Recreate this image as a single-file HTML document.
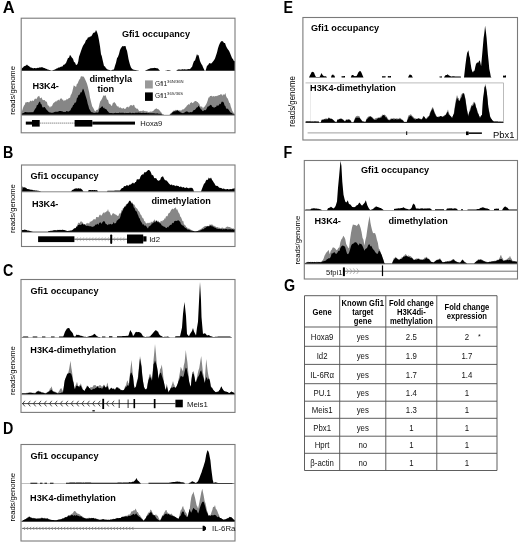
<!DOCTYPE html><html><head><meta charset="utf-8"><style>html,body{margin:0;padding:0;background:#fff;}svg{display:block;filter:blur(0.3px);}text{font-family:"Liberation Sans", Arial, sans-serif;}</style></head><body>
<svg width="520" height="544" viewBox="0 0 520 544">
<rect x="0" y="0" width="520" height="544" fill="#fff" />
<text transform="translate(2.7,12.5) scale(1.02,1)" font-size="16.2" font-weight="bold" text-anchor="start" fill="#000" >A</text>
<polygon fill="#000" points="21.5,70.8 21.5,69.13 22.25,68.09 23,67.54 24,66.32 25,66.12 26,65.47 27,64.58 28,65.87 29,66.04 30,67.14 31,67.55 31.75,67.69 32.5,68.03 33.25,68.41 34,68.08 34.75,68.02 35.5,68.17 36.25,68.29 37,67.92 37.75,67.67 38.5,68.01 39.25,67.16 40,67.72 40.75,67.29 41.5,67.22 42.25,67.24 43,67.44 43.75,68.11 44.5,67.97 45.25,68.51 46,68.82 46.75,69.03 47.5,69.44 48.25,69.62 49,70 49.75,70.12 50.5,70.25 51.25,70.38 52,70.5 52.75,70.25 53.5,70 54.25,69.75 55,69.52 55.75,69.02 56.5,68.6 57.25,68.42 58,67.81 58.8,67.45 59.6,67.4 60.4,67.02 61.2,66.6 62,66.84 62.75,66.1 63.5,64.84 64.25,64.64 65,63.9 66,62.89 67,60.6 68,57.88 69,57.66 70,54.76 71,56.17 72,57.67 73,58.83 74,62.05 75,62.57 76,65 76.75,64.73 77.5,63.98 78.25,61.43 79,56.69 80,54.03 81,51.06 82,48.28 83,45.75 84,44.35 85,42.83 86,40.04 87,39.46 88,37.13 89,37.54 90,36.42 91,36.43 92,35.31 93,33.13 94,32.6 95,32.47 96,30.05 97,32.02 98,35.37 99,40.26 100,46.13 101,54.19 101.75,56.03 102.5,59.54 103.25,62.76 104,66.11 105,66.58 106,68.28 107,69 108,69.75 108.75,69.75 109.5,70 110.25,70.25 111,70.5 111.75,70.12 112.5,69.75 113.25,69.63 114,69.34 115,65.82 116,62.8 117,58.29 118,56.7 119,54.11 120,50.08 121,47.89 121.75,47.01 122.5,46.01 123.25,46.32 124,46.3 124.75,46.08 125.5,46.01 126.25,48.92 127,50.81 127.75,54.75 128.5,59.1 129.25,62.02 130,64.77 131,67.52 132,68.63 133,69.52 134,69.75 135,70 135.71,70.11 136.43,70.23 137.14,70.34 137.86,70.46 138.57,70.57 139.29,70.69 140,70.8 140.71,70.8 141.43,70.8 142.14,70.8 142.86,70.8 143.57,70.8 144.29,70.8 145,70.8 145.75,70.35 146.5,69.9 147.25,69.72 148,69.31 149,68.94 150,68.49 150.71,68.22 151.43,68.19 152.14,67.98 152.86,68.29 153.57,67.9 154.29,67.87 155,67.94 155.75,68.08 156.5,68.35 157.25,68.35 158,68.5 159,69.65 160,70.8 160.71,70.8 161.43,70.8 162.14,70.8 162.86,70.8 163.57,70.8 164.29,70.8 165,70.8 165.75,70.6 166.5,70.4 167.25,70.2 168,70 168.8,70.16 169.6,70.32 170.4,70.48 171.2,70.64 172,70.8 172.8,70.8 173.6,70.8 174.4,70.8 175.2,70.8 176,70.8 177,70.15 178,69.54 178.7,69.5 179.4,69.55 180.1,69.42 180.8,69.65 181.5,69.55 182.2,69.37 182.9,69.37 183.6,69.38 184.3,69.36 185,69.24 185.71,69.48 186.43,69.5 187.14,69.29 187.86,69.27 188.57,69.09 189.29,69.07 190,69.14 191,67.69 192,66.88 193,63.76 194,61.05 195,60.59 196,57.16 197,54.07 197.75,55.57 198.5,55.06 199.25,58.04 200,60.9 200.75,62.76 201.5,64.19 202.25,65.33 203,67.31 203.75,68.83 204.5,70.5 205.5,70.8 206.25,68.39 207,65.68 208,65.17 209,63.57 209.75,62.91 210.5,63.57 211.25,63.52 212,62.84 213,61.52 214,60.3 215,58.38 216,55.5 217,52.39 218,48.28 219,45.31 220,43.06 221,41.61 222,41.07 223,41.52 224,43.1 225,42.98 226,46.06 227,47.92 228,49.6 229,50.8 230,52.99 231,55.5 232,57.93 233,59.2 234,61.37 235,61 235,70.8"/>
<polygon fill="#868686" points="21.5,114.8 21.5,112.55 22.3,110.24 23.15,107.46 24,105.44 24.75,104.76 25.5,102.19 26.25,102.45 27,102 28,102.12 29,102.45 29.8,101.53 30.6,100.55 31.4,101.58 32.2,100.25 33,100.96 33.8,100.84 34.6,99.07 35.4,98.58 36.16,99.32 36.92,98.37 37.68,96.69 38.44,96.14 39.2,95.73 39.97,97.89 40.73,98.17 41.5,97.22 42.27,99.29 43.05,100.21 43.83,100.07 44.6,99.97 45.38,101.36 46.15,101.39 46.93,102.08 47.7,105.14 48.47,105.43 49.23,106.14 50,107.81 50.77,106.18 51.53,106.45 52.3,105.62 53.07,103.51 53.85,102.85 54.62,102.19 55.4,101.33 56.17,101.69 56.95,100.57 57.73,100.52 58.5,99.49 59.25,100.65 60,98.88 60.75,98.56 61.5,98.28 62.27,99.72 63.03,99.39 63.8,101.22 64.53,100.3 65.27,100.37 66,100.35 66.8,98.87 67.6,99.42 68.4,98.48 69.2,97.71 69.97,97.89 70.73,94.95 71.5,94.04 72.27,91.8 73.03,88.62 73.8,85.32 74.53,86.01 75.27,86.36 76,87.13 76.83,84.1 77.67,83.57 78.5,81.35 79.27,79.61 80.03,78.9 80.8,76.52 81.53,76.37 82.27,76.54 83,76.61 83.8,76.78 84.6,78.35 85.4,79.88 86.2,81.66 87,83.82 87.73,86.36 88.47,89.61 89.2,92.55 90,97.42 90.8,100.74 91.53,103.73 92.27,106.47 93,107.45 93.8,109.07 94.6,110.63 95.4,111.54 96.18,110.36 96.95,109.79 97.72,109.63 98.5,108.6 99.6,103.53 100.3,101.16 101,100.47 101.85,98.92 102.7,97.37 103.47,95.21 104.23,95.91 105,95.25 105.77,95.41 106.53,98.34 107.3,99.83 108.07,99.95 108.83,103.33 109.6,103.88 110.4,104.34 111.2,105.71 112,105.63 112.73,103.16 113.47,102.75 114.2,101.93 114.97,102.81 115.73,103.76 116.5,105.3 117.28,106.73 118.05,105.84 118.82,107.42 119.6,107.76 120.38,107.21 121.15,107.89 121.92,108.52 122.7,108.5 123.47,107.63 124.25,108.96 125.03,108.5 125.8,108.67 126.55,106.98 127.3,107.08 128.05,106.47 128.8,107.67 129.6,106.08 130.4,105.13 131.2,105.1 132,105.51 132.73,105.67 133.47,104.8 134.2,104.93 134.97,107.49 135.73,107.69 136.5,108.79 137.28,108.6 138.05,109.32 138.82,110.75 139.6,111.17 140.38,110.67 141.15,111.31 141.92,110.84 142.7,110.85 143.47,110.28 144.25,111.23 145.03,110.66 145.8,111.56 146.55,111.36 147.3,111.42 148.05,111.75 148.8,112.17 149.58,111.64 150.36,111.48 151.14,111.72 151.92,111.45 152.7,111.29 153.46,110.65 154.22,109.86 154.98,109.35 155.74,108.84 156.5,108.18 157.27,109.3 158.03,109.09 158.8,109.82 159.6,110.41 160.4,111.54 161.2,112.31 161.95,113.52 162.7,114.6 163.46,114.62 164.21,114.64 164.97,114.67 165.72,114.69 166.48,114.71 167.23,114.73 167.99,114.76 168.74,114.78 169.5,114.8 170.8,113.01 171.55,112.66 172.3,111.9 173.05,110.92 173.8,110.5 174.6,110.83 175.4,109.72 176.2,110.37 177,109.73 177.75,109.99 178.5,110.55 179.25,110.23 180,110.54 180.75,110.41 181.5,110.45 182.25,109.32 183,109.65 183.8,108.99 184.6,108.39 185.4,107.49 186.2,106.86 186.97,105.51 187.73,104.89 188.5,103.96 189.27,104.93 190.03,103.36 190.8,102.66 191.53,101.99 192.27,103.15 193,102.72 193.8,102.15 194.6,101.17 195.4,100.96 196.2,100.94 196.97,101.98 197.73,101.98 198.5,103.28 199.27,103.65 200.03,105.95 200.8,106.74 201.53,106.53 202.27,106.66 203,108.66 203.8,107.03 204.6,106.63 205.4,105.4 206.2,104.29 207,102.54 207.75,100.36 208.5,97.44 209.27,97.58 210.03,95.94 210.8,95.98 211.55,95.8 212.3,96.68 213.05,96.09 213.8,96.25 214.6,96.47 215.4,95.91 216.2,96.29 217,95.76 217.75,95.85 218.5,95.25 219.25,94.98 220,94.93 220.77,94.12 221.53,94.25 222.3,95.97 223.08,93.93 223.85,94.99 224.62,94.62 225.4,93.1 226.17,96.17 226.93,97.63 227.7,98.38 228.47,100.61 229.23,102.79 230,103.31 230.77,106.42 231.53,108.46 232.3,110.88 233.05,112.08 233.8,113.33 235,114 235,114.8"/>
<polygon fill="#000" points="21.5,114.8 21.5,113.67 22.2,113.51 22.9,113.19 23.6,112.94 24.3,112.43 25,112.02 25.71,112.05 26.43,112.17 27.14,111.98 27.86,112.42 28.57,112.22 29.29,112.24 30,112.21 30.75,112.29 31.5,112.21 32.25,111.95 33,112.49 33.8,111.29 34.6,109.82 35.4,108.51 36.2,107.39 37,104.75 37.75,105.27 38.5,103.25 39.25,101.91 40,101.38 40.77,103.94 41.53,104.32 42.3,106.93 43.07,107.63 43.83,106.9 44.6,106.92 45.4,108 46.2,109.19 47,110.14 47.73,110.85 48.47,111.77 49.2,112.34 50.13,112.45 51.07,112.57 52,112.88 52.8,112.47 53.6,112.44 54.4,111.91 55.2,111.74 56,111.7 56.8,111.82 57.6,111.66 58.4,111.48 59.2,110.96 60,110.99 60.8,111.12 61.6,111.3 62.4,111.2 63.2,111.99 64,111.64 64.8,112.1 65.6,111.96 66.4,111.09 67.2,111.33 68,111.52 68.83,111.44 69.67,110.71 70.5,110.28 71.4,108.03 72.3,107.36 73.08,104.89 73.85,104.73 74.62,102.79 75.4,102.65 76.18,101.67 76.95,97.94 77.72,97.53 78.5,94.92 79.27,94.98 80.03,93.81 80.8,92.01 81.53,92.47 82.27,90.57 83,88.55 83.8,90.01 84.6,92.58 85.4,95.24 86.2,97.66 86.95,100.31 87.7,103.76 88.47,105.99 89.23,108.99 90,110 90.77,111.43 91.53,112.14 92.3,112.37 93.2,112.86 94.1,112.8 95,112.96 95.7,112.55 96.4,112.5 97.1,112.42 97.8,112.69 98.5,112.36 99.6,108.26 100.4,107.92 101.2,107.19 102,106.29 102.73,106.62 103.47,108.16 104.2,107.4 104.97,109.13 105.73,108.78 106.5,109.53 107.27,110.75 108.03,111.41 108.8,112.51 109.6,112.92 110.4,112.99 111.2,113.05 112,113.08 112.73,113.19 113.45,113.19 114.18,112.99 114.91,113.06 115.64,112.73 116.36,113.03 117.09,112.88 117.82,113.01 118.55,112.94 119.27,112.76 120,112.62 120.71,113.06 121.43,112.69 122.14,112.87 122.86,112.82 123.57,112.81 124.29,113.03 125,113.15 125.71,112.83 126.43,113.03 127.14,112.88 127.86,113.01 128.57,112.95 129.29,112.86 130,112.87 130.71,112.87 131.43,113.16 132.14,112.96 132.86,112.82 133.57,113.11 134.29,113.14 135,112.86 135.71,112.7 136.43,112.7 137.14,112.63 137.86,112.73 138.57,112.59 139.29,112.64 140,112.63 140.71,112.82 141.43,113.01 142.14,112.97 142.86,112.84 143.57,112.87 144.29,112.95 145,112.92 145.71,112.94 146.43,112.85 147.14,112.98 147.86,113.3 148.57,112.98 149.29,113.17 150,113.25 150.71,113.37 151.43,113.15 152.14,113.21 152.86,113.23 153.57,113.32 154.29,113.37 155,113.58 155.71,113.57 156.43,113.61 157.14,113.36 157.86,113.4 158.57,113.64 159.29,113.73 160,113.64 160.9,113.87 161.8,114.23 162.7,114.6 163.46,114.62 164.21,114.64 164.97,114.67 165.72,114.69 166.48,114.71 167.23,114.73 167.99,114.76 168.74,114.78 169.5,114.8 170.8,114 171.55,113.41 172.3,112.4 173.05,111.88 173.8,111.62 174.6,111.36 175.4,111.23 176.2,111.18 177,110.26 177.75,110.48 178.5,110.89 179.25,111.55 180,112 180.75,112.48 181.5,112.65 182.25,112.93 183,113.3 183.8,112.79 184.6,112.45 185.4,111.71 186.2,111.85 187,111 187.73,112.01 188.47,112.23 189.2,112.47 189.97,112.18 190.75,112.06 191.53,112.13 192.3,112.01 193.08,110.85 193.85,110.07 194.62,109.89 195.4,109.31 196.18,108.33 196.95,107.34 197.72,107.32 198.5,105.42 199.27,106.74 200.03,107.73 200.8,109.2 201.53,109.59 202.27,110.75 203,111.22 203.8,110.46 204.6,109.93 205.4,110.28 206.2,109.48 206.95,108.02 207.7,106.59 208.45,106.59 209.2,106.08 209.97,105.26 210.73,104.63 211.5,105.27 212.27,107.07 213.03,106.82 213.8,107.75 214.6,107.51 215.4,106.95 216.2,106.79 217,105.04 217.75,105.95 218.5,105.43 219.25,104.51 220,103.45 220.77,104.13 221.53,101.69 222.3,101.8 223.05,101.66 223.8,102.79 224.6,105.54 225.4,106.04 226.2,108.63 226.97,108.5 227.73,108.73 228.5,109.48 229.27,110.65 230.03,111.78 230.8,112.82 231.53,112.86 232.27,113.43 233,113.8 234,114.15 235,114.5 235,114.8"/>
<line x1="21.5" y1="115.3" x2="235" y2="115.3" stroke="#777" stroke-width="0.8"/>
<rect x="21.2" y="18.2" width="213.8" height="114.6" fill="none" stroke="#7a7a7a" stroke-width="1.1"/>
<text transform="translate(121.9,36.8) scale(1.04,1)" font-size="8.8" font-weight="bold" text-anchor="start" fill="#000" >Gfi1 occupancy</text>
<text transform="translate(32.4,89) scale(1.04,1)" font-size="8.8" font-weight="bold" text-anchor="start" fill="#000" >H3K4-</text>
<text transform="translate(89.4,81.6) scale(1.04,1)" font-size="8.8" font-weight="bold" text-anchor="start" fill="#000" >dimethyla</text>
<text transform="translate(97.4,92.2) scale(1.04,1)" font-size="8.8" font-weight="bold" text-anchor="start" fill="#000" >tion</text>
<rect x="145" y="80.4" width="7.8" height="8.1" fill="#999" />
<rect x="145" y="92.4" width="7.8" height="8.5" fill="#000" />
<text x="155" y="86" font-size="6.6" fill="#222">Gfi1<tspan font-size="4.2" dy="-2.6">36N/36N</tspan></text>
<text x="155" y="98" font-size="6.6" fill="#222">Gfi1<tspan font-size="4.2" dy="-2.6">36S/36S</tspan></text>
<text x="0" y="0" font-size="7.9" text-anchor="middle" fill="#000" transform="translate(15.2,90.4) rotate(-90) scale(0.965,1)">reads/genome</text>
<rect x="25.8" y="121.6" width="6.5" height="3" fill="#000" />
<rect x="32" y="120" width="7.7" height="6.6" fill="#000" />
<line x1="39.7" y1="123.1" x2="74.6" y2="123.1" stroke="#444" stroke-width="0.9" stroke-dasharray="1,1"/>
<rect x="74.6" y="120" width="17.7" height="6.6" fill="#000" />
<rect x="92.3" y="121.6" width="42.7" height="3" fill="#000" />
<text x="140.3" y="125.8" font-size="7.6" font-weight="normal" text-anchor="start" fill="#111" >Hoxa9</text>
<text transform="translate(2.97,157.8) scale(0.9,1)" font-size="15.9" font-weight="bold" text-anchor="start" fill="#000" >B</text>
<polygon fill="#000" points="22,191.6 22,191.5 22.5,186.26 23.33,187.59 24.17,187.14 25,187.55 25.75,187.8 26.5,188.31 27.25,188.91 28,189.1 29,189.21 30,189.57 30.75,189.73 31.5,189.65 32.25,189.83 33,190.33 33.75,190.37 34.5,190.26 35.25,190.55 36,190.5 36.8,190.6 37.6,190.7 38.4,190.8 39.2,190.9 40,191 41,191.5 41.71,191.5 42.43,191.5 43.14,191.5 43.86,191.5 44.57,191.5 45.29,191.5 46,191.5 46.71,191.5 47.43,191.5 48.14,191.5 48.86,191.5 49.57,191.5 50.29,191.5 51,191.5 51.71,191.5 52.43,191.5 53.14,191.5 53.86,191.5 54.57,191.5 55.29,191.5 56,191.5 56.71,191.5 57.43,191.5 58.14,191.5 58.86,191.5 59.57,191.5 60.29,191.5 61,191.5 61.71,191.5 62.43,191.5 63.14,191.5 63.86,191.5 64.57,191.5 65.29,191.5 66,191.5 66.71,191.5 67.43,191.5 68.14,191.5 68.86,191.5 69.57,191.5 70.29,191.5 71,191.5 72,190.13 72.75,189.79 73.5,189.42 74.25,188.98 75,188.5 76,188.46 77,188.28 77.75,188.76 78.5,188.1 79.25,188.76 80,188.16 81,188.74 82,189.47 82.75,190.49 83.5,191.5 84.25,191.5 85,191.5 85.75,191.5 86.5,191.5 87.25,191.5 88,191.5 88.5,190.15 89.2,189.98 89.9,190.09 90.6,190.02 91.3,190.2 92,189.88 92.71,189.97 93.43,190.2 94.14,189.9 94.86,190.07 95.57,190.24 96.29,190.25 97,190.01 98,191.5 98.75,191.5 99.5,191.5 100.25,191.5 101,191.5 101.75,191.5 102.5,191.5 103.25,191.5 104,191.5 104.75,191.5 105.5,191.5 106.25,191.5 107,191.5 107.5,190.8 108.24,190.78 108.97,190.76 109.71,190.75 110.44,190.73 111.18,190.71 111.91,190.69 112.65,190.68 113.38,190.66 114.12,190.64 114.85,190.62 115.59,190.61 116.32,190.59 117.06,190.57 117.79,190.55 118.53,190.54 119.26,190.52 120,190.5 121,189.02 122,188.05 123,187.93 124,186.32 125,186.09 125.75,186.2 126.5,185.26 127.25,185.04 128,186 129,185.14 130,184.2 130.75,184.72 131.5,183.72 132.25,183.35 133,182.51 133.75,183.49 134.5,183.27 135.25,182.02 136,182.08 136.75,179.43 137.5,179.26 138.25,179.17 139,179.6 139.75,178.66 140.5,176.48 141.25,175.24 142,174.7 142.75,174.15 143.5,174.42 144.25,172.09 145,172.77 145.75,172.06 146.5,171.69 147.25,171.01 148,170.09 149,170.1 150,170.7 151,172.67 152,175.47 152.75,174.86 153.5,176.06 154.25,178.22 155,178.04 155.75,178.14 156.5,178.57 157.25,180.22 158,180.22 158.75,181.03 159.5,180.19 160.25,179.8 161,177.58 162,176.68 163,176.21 164,178.47 165,180.31 165.75,180.3 166.5,180.39 167.25,181.35 168,182.36 168.75,183.16 169.5,183.89 170.25,184.65 171,184.9 171.8,184.2 172.6,185.61 173.4,184.96 174.2,185.6 175,185.54 175.71,186.19 176.43,185.56 177.14,185.76 177.86,185.9 178.57,185.91 179.29,186.97 180,186.71 180.71,186.53 181.43,186.75 182.14,187.56 182.86,187.13 183.57,186.96 184.29,187.7 185,187.66 185.71,188.06 186.43,187.24 187.14,187.67 187.86,188.06 188.57,188.14 189.29,188.27 190,187.54 190.75,187.88 191.5,187.85 192.25,188.03 193,188.77 194,191.5 194.7,191.5 195.4,191.5 196.1,191.5 196.8,191.5 197.5,191.5 198.2,191.5 198.9,191.5 199.6,191.5 200.3,191.5 201,191.5 202,188.68 203,186.35 204,183.7 205,182.91 205.75,181.11 206.5,179.82 207.25,180.09 208,179.58 208.75,177.61 209.5,178.56 210.25,178.49 211,177.48 212,179.81 213,181.31 213.75,182.43 214.5,183.48 215.25,185 216,185.95 216.8,185.77 217.6,186.01 218.4,186.87 219.2,187.69 220,187.67 220.71,187.98 221.43,188.09 222.14,188.75 222.86,188.75 223.57,188.61 224.29,188.85 225,189.23 225.71,189.31 226.43,189.37 227.14,189.05 227.86,189.09 228.57,189.4 229.29,189.23 230,189.16 230.71,189.04 231.43,189.32 232.14,188.78 232.86,188.82 233.57,188.55 234.29,188.46 235,188 235,191.6"/>
<line x1="21.5" y1="191.8" x2="235" y2="191.8" stroke="#555" stroke-width="0.7"/>
<polygon fill="#868686" points="22,232 22,232 22.71,232 23.41,232 24.12,232 24.83,232 25.53,232 26.24,232 26.95,232 27.65,232 28.36,232 29.07,232 29.77,232 30.48,232 31.19,232 31.89,232 32.6,232 33.31,232 34.01,232 34.72,232 35.43,232 36.13,232 36.84,232 37.55,232 38.25,232 38.96,232 39.67,232 40.37,232 41.08,232 41.79,232 42.49,232 43.2,232 43.91,232 44.61,232 45.32,232 46.03,232 46.73,232 47.44,232 48.15,232 48.85,232 49.56,232 50.27,232 50.97,232 51.68,232 52.39,232 53.09,232 53.8,232 54.51,232 55.21,232 55.92,232 56.63,232 57.33,232 58.04,232 58.75,232 59.45,232 60.16,232 60.87,232 61.57,232 62.28,232 62.99,232 63.69,232 64.4,232 65.11,232 65.81,232 66.52,232 67.23,232 67.93,232 68.64,232 69.35,232 70.05,232 70.76,232 71.47,232 72.17,232 72.88,232 73.59,232 74.29,232 75,232 76,227.14 77,225.95 78,223.26 78.8,222.53 79.6,223.3 80.4,221.75 81.2,220.91 82,222.48 82.75,222.31 83.5,224.01 84.25,223.92 85,225.55 85.71,224.43 86.43,223.46 87.14,222.74 87.86,223.46 88.57,223.27 89.29,223.43 90,221.2 90.8,221.92 91.6,220.92 92.4,220.76 93.2,219.52 94,219.37 94.75,219.21 95.5,219.41 96.25,216.93 97,217.08 97.8,217.32 98.6,217.23 99.4,215.08 100.2,214.48 101,215.82 101.8,215.35 102.6,213.71 103.4,212.22 104.2,213.59 105,211.85 105.75,212.43 106.5,211.24 107.25,211.13 108,209.1 108.75,211.73 109.5,211.74 110.25,213.39 111,215.61 111.75,215.26 112.5,213.53 113.25,213.29 114,213.38 114.75,214.26 115.5,214.59 116.25,214.65 117,215.54 117.75,215.97 118.5,215.72 119.25,213.22 120,213.74 120.75,212.92 121.5,210.08 122.25,210.59 123,207.76 123.75,207.88 124.5,206.84 125.25,206.07 126,204.42 127,203.8 128,203.28 129,202.44 130,202.45 130.75,202.36 131.5,202.71 132.25,202.18 133,203.86 133.75,204.45 134.5,204.77 135.25,206.8 136,207.72 136.75,208.26 137.5,208.9 138.25,210.79 139,211.24 139.75,212.53 140.5,214.45 141.25,214.95 142,216.97 142.75,218.37 143.5,218.59 144.25,221.15 145,221.18 145.75,222.99 146.5,223.46 147.25,223.24 148,222.61 148.75,223.22 149.5,222.58 150.25,223.47 151,221.3 151.75,222.32 152.5,222.07 153.25,220.92 154,220.54 154.75,219.36 155.5,221.28 156.25,220.39 157,221.6 157.75,221.89 158.5,220.61 159.25,222.36 160,223.05 160.75,220.77 161.5,221.02 162.25,221.54 163,219.85 163.75,220.6 164.5,218.35 165.25,218.67 166,216.32 166.75,216.23 167.5,216.27 168.25,213.83 169,213.08 169.75,212.68 170.5,211.33 171.25,209.77 172,209.15 172.75,208.42 173.5,209.44 174.25,208.18 175,207.97 175.75,207.37 176.5,209.73 177.25,209.25 178,211.17 178.75,212.9 179.5,213.79 180.25,216.42 181,217.22 181.75,218.9 182.5,221.19 183.25,221.11 184,224.58 184.75,224.79 185.5,225.38 186.25,226.95 187,227.29 187.75,228.43 188.5,228.4 189.25,228.6 190,229.3 190.75,229.57 191.5,229.96 192.25,230.69 193,231 193.75,231.25 194.5,231.5 195.25,231.75 196,232 196.75,231.5 197.5,231 198.25,230.52 199,230.36 199.75,229.52 200.5,229.21 201.25,228.96 202,228.08 202.75,227.84 203.5,227.11 204.25,226.38 205,226.04 205.75,225.96 206.5,226.38 207.25,225.89 208,225.79 208.75,226.13 209.5,224.6 210.25,224.46 211,224.94 211.8,224.24 212.6,224.65 213.4,225.64 214.2,225.7 215,226.47 215.71,226.5 216.43,227.14 217.14,227.34 217.86,227.09 218.57,227.75 219.29,227.78 220,227.63 220.71,228.43 221.43,227.74 222.14,227.65 222.86,227.59 223.57,228.13 224.29,228.36 225,228.27 225.75,227.56 226.5,227.06 227.25,226.39 228,226.85 228.8,227.01 229.6,227.02 230.4,227.62 231.2,227.67 232,228.43 232.75,228.49 233.5,228.34 234.25,229.15 235,228.75 235,232"/>
<polygon fill="#000" points="22,232 22,230.02 22.75,230.12 23.5,229.95 24.25,229.75 25,229.53 25.71,230.11 26.43,229.93 27.14,230.37 27.86,230.7 28.57,230.62 29.29,230.84 30,231 30.75,231.25 31.5,231.5 32.25,231.75 33,232 33.71,232 34.43,232 35.14,232 35.86,232 36.57,232 37.29,232 38,232 38.71,232 39.43,232 40.14,232 40.86,232 41.57,232 42.29,232 43,232 43.71,232 44.43,232 45.14,232 45.86,232 46.57,232 47.29,232 48,232 48.5,231 49.22,230.89 49.94,230.94 50.67,230.82 51.39,230.76 52.11,230.72 52.83,230.4 53.56,230.34 54.28,230.24 55,230.02 55.71,230.33 56.43,230.23 57.14,230.13 57.86,229.72 58.57,230.08 59.29,229.97 60,229.76 60.71,229.97 61.43,229.88 62.14,229.83 62.86,229.84 63.57,229.97 64.29,229.95 65,230.15 65.75,230.54 66.5,230.73 67.25,230.98 68,231 68.8,230.8 69.6,230.82 70.4,230.49 71.2,230.42 72,230.19 72.75,229.83 73.5,229.12 74.25,228.35 75,228.14 75.75,227.96 76.5,226.52 77.25,226.86 78,225.02 78.8,224.93 79.6,224.42 80.4,224.89 81.2,224.87 82,224.06 82.8,223.55 83.6,224.98 84.4,224.3 85.2,224.52 86,226 86.8,225.63 87.6,225.81 88.4,225.85 89.2,226.43 90,225.72 90.75,226.5 91.5,226.5 92.25,226.93 93,226.58 93.75,226.54 94.5,225.88 95.25,225.01 96,224.37 96.8,224.84 97.6,223.55 98.4,224.88 99.2,223.09 100,222.56 100.8,222.43 101.6,223.94 102.4,222.36 103.2,221.61 104,221.06 104.8,221.69 105.6,223.69 106.4,224.08 107.2,224.72 108,225.3 108.8,223.82 109.6,224.52 110.4,223.81 111.2,224.45 112,224.21 112.8,224.12 113.6,222.05 114.4,223.51 115.2,223.31 116,223.08 116.75,220.67 117.5,220.33 118.25,219.56 119,218.83 119.75,218.43 120.5,216.16 121.25,213.58 122,211.82 122.75,210.39 123.5,208.63 124.25,207.22 125,206.22 125.75,206.79 126.5,204.7 127.25,204.08 128,203.43 129,201.3 130,200.56 130.75,201.56 131.5,203.45 132.25,203.62 133,204.46 133.75,207.43 134.5,207.98 135.25,210.31 136,211.36 136.75,211.57 137.5,213.91 138.25,215.46 139,217.7 139.75,218.39 140.5,220.8 141.25,222.06 142,222.95 142.75,224.81 143.5,223.91 144.25,225.75 145,225.26 145.75,225.63 146.5,226.51 147.25,227.73 148,228.47 148.75,226.57 149.5,226.31 150.25,225.48 151,225.2 151.75,223.43 152.5,223.42 153.25,222.45 154,222.83 154.75,221.32 155.5,222.58 156.25,220.87 157,220.47 157.75,222.16 158.5,222.35 159.25,222.12 160,223.83 160.75,223.28 161.5,225.18 162.25,225.54 163,226.21 163.75,226.51 164.5,226.7 165.25,227.33 166,227.89 166.75,228.08 167.5,226.85 168.25,227.47 169,226.03 169.75,225.44 170.5,224.7 171.25,225.09 172,223.55 172.75,222.71 173.5,223.19 174.25,221.14 175,221.01 175.75,220.86 176.5,221.03 177.25,220.72 178,220.17 178.75,220.45 179.5,221.34 180.25,221.9 181,224.26 181.75,224.63 182.5,225.52 183.25,225.38 184,226.58 184.75,227.59 185.5,227.96 186.25,228.17 187,229.08 187.75,229.63 188.5,229.51 189.25,229.78 190,230.13 190.71,230.49 191.43,230.72 192.14,230.69 192.86,230.86 193.57,231.07 194.29,231.29 195,231.5 195.71,231.36 196.43,231.21 197.14,231.07 197.86,230.93 198.57,230.83 199.29,230.72 200,230.61 200.71,230.29 201.43,229.73 202.14,229.42 202.86,228.92 203.57,229.14 204.29,228.58 205,227.6 205.75,227.96 206.5,226.38 207.25,226.16 208,226.52 208.75,226.22 209.5,226.13 210.25,225.67 211,225.3 211.8,226.41 212.6,226.14 213.4,226.75 214.2,227.43 215,227.53 215.71,228.06 216.43,228.58 217.14,228.64 217.86,228.63 218.57,228.89 219.29,228.92 220,228.85 220.71,229.18 221.43,229.04 222.14,229.28 222.86,229.4 223.57,229.06 224.29,229.16 225,229.29 225.71,229.05 226.43,228.91 227.14,229.27 227.86,229.38 228.57,229.3 229.29,229.25 230,229.36 230.71,229.33 231.43,229.39 232.14,229.36 232.86,229.37 233.57,229.66 234.29,229.45 235,229.5 235,232"/>
<line x1="21.5" y1="232" x2="235" y2="232" stroke="#333" stroke-width="0.8"/>
<rect x="21.5" y="165" width="213.5" height="81.5" fill="none" stroke="#7a7a7a" stroke-width="1.1"/>
<text transform="translate(30.5,178.8) scale(1.04,1)" font-size="8.8" font-weight="bold" text-anchor="start" fill="#000" >Gfi1 occupancy</text>
<text transform="translate(31.9,206.8) scale(1.04,1)" font-size="8.8" font-weight="bold" text-anchor="start" fill="#000" >H3K4-</text>
<text transform="translate(151.4,204.2) scale(1.04,1)" font-size="8.8" font-weight="bold" text-anchor="start" fill="#000" >dimethylation</text>
<text x="0" y="0" font-size="7.9" text-anchor="middle" fill="#000" transform="translate(14.6,208.6) rotate(-90) scale(0.965,1)">reads/genome</text>
<line x1="74.4" y1="239.2" x2="127" y2="239.2" stroke="#222" stroke-width="0.8"/>
<path d="M77.7 237.2L76.5 239.2L77.7 241.2M80.8 237.2L79.6 239.2L80.8 241.2M83.9 237.2L82.7 239.2L83.9 241.2M87 237.2L85.8 239.2L87 241.2M90.1 237.2L88.9 239.2L90.1 241.2M93.2 237.2L92 239.2L93.2 241.2M96.3 237.2L95.1 239.2L96.3 241.2M99.4 237.2L98.2 239.2L99.4 241.2M102.5 237.2L101.3 239.2L102.5 241.2M105.6 237.2L104.4 239.2L105.6 241.2M108.7 237.2L107.5 239.2L108.7 241.2M111.8 237.2L110.6 239.2L111.8 241.2M114.9 237.2L113.7 239.2L114.9 241.2M118 237.2L116.8 239.2L118 241.2M121.1 237.2L119.9 239.2L121.1 241.2M124.2 237.2L123 239.2L124.2 241.2" fill="none" stroke="#999" stroke-width="0.5"/>
<rect x="38.1" y="236.3" width="36.3" height="5.8" fill="#000" />
<rect x="110.2" y="234.5" width="2" height="9.4" fill="#000" rx="0.8"/>
<rect x="127" y="234.5" width="16.2" height="9" fill="#000" />
<rect x="143.2" y="236.3" width="3.3" height="5.2" fill="#000" />
<text x="149.2" y="242.1" font-size="7.8" font-weight="normal" text-anchor="start" fill="#111" >Id2</text>
<text transform="translate(3,275.8) scale(0.9,1)" font-size="15.9" font-weight="bold" text-anchor="start" fill="#000" >C</text>
<polygon fill="#000" points="21.5,337.4 21.5,337.3 22.5,336.9 23.5,336.5 24.25,336.5 25,336.5 25.75,336.5 26.5,336.5 27.25,336.5 28,336.5 28.5,337.3 29.2,337.3 29.9,337.3 30.6,337.3 31.3,337.3 32,337.3 32.7,337.3 32.7,336.5 33.47,336.5 34.23,336.5 35,336.5 35.77,336.5 36.53,336.5 37.3,336.5 37.3,337.3 38.08,337.3 38.87,337.3 39.65,337.3 40.43,337.3 41.22,337.3 42,337.3 42,336.5 42.85,336.5 43.7,336.5 44.55,336.5 45.4,336.5 45.4,337.3 46.1,337.3 46.8,337.3 47.5,337.3 48.2,337.3 48.9,337.3 49.6,337.3 50.3,337.3 51,337.3 51,336.5 51.72,336.5 52.44,336.5 53.16,336.5 53.88,336.5 54.6,336.5 54.6,337.3 55.33,337.3 56.07,337.3 56.8,337.3 57.53,337.3 58.27,337.3 59,337.3 59,336.5 59.74,336.5 60.48,336.5 61.22,336.5 61.96,336.5 62.7,336.5 63.4,336.13 64.2,334.09 65,331.84 66.2,329.73 67,328.42 67.8,328.23 68.5,327.95 69.2,327.97 70.3,330.3 71.15,331.27 72,332.15 72.8,333.27 73.6,335.69 74.3,336.32 75,336.8 75.8,335.66 76.6,334.54 77.4,335.1 78.2,334.76 79,335.29 79.73,335.21 80.47,335.63 81.2,335.81 81.97,335.98 82.73,336.2 83.5,336.6 84.2,336.68 84.9,336.76 85.6,336.84 86.3,336.92 87,337 87.71,336.75 88.42,336.5 89.14,336.25 89.85,336.03 90.56,335.96 91.28,335.73 91.99,335.59 92.7,335.27 93.55,334.48 94.4,333.8 95.3,334.57 96.2,335.58 96.97,336.24 97.73,336.47 98.5,337 99.2,337.06 99.9,337.12 100.6,337.18 101.3,337.24 102,337.3 102,336.5 102.85,336.5 103.7,336.5 104.55,336.5 105.4,336.5 105.4,337.3 106.12,337.3 106.84,337.3 107.56,337.3 108.28,337.3 109,337.3 109,336.2 109.85,336.2 110.7,336.2 111.55,336.2 112.4,336.2 112.4,337.3 113.17,337.3 113.93,337.3 114.7,337.3 115.47,337.3 116.23,337.3 117,337.3 117,336.2 117.7,336.24 118.4,336.35 119.1,336.25 119.8,336.33 120.5,336.14 121.2,336.37 121.9,336.16 122.6,336.06 123.3,336.1 124,336.12 124.75,335.9 125.5,335.95 126.25,335.86 127,335.88 127.75,335.65 128.5,335.52 129.45,332.22 130.4,329.95 131.2,331.73 132,332.63 133,336.07 133.83,335.15 134.67,333.68 135.5,332.25 136.27,331.76 137.03,332.26 137.8,331.98 139,332.07 140,332.42 141,333.11 142,334.41 143,336.3 144,336.5 145,337 145.71,336.93 146.43,336.86 147.14,336.79 147.86,336.71 148.57,336.64 149.29,336.57 150,336.5 151,335.3 152,334.26 153,333.08 154,331.74 155,330.76 156,330.01 157,331.22 158,331.42 159,333.91 160,335.19 160.75,335.86 161.5,336.08 162.25,336.5 163,337 163.71,336.93 164.43,336.86 165.14,336.79 165.86,336.71 166.57,336.64 167.29,336.57 168,336.5 169,336.9 170,337.3 170.71,337.3 171.43,337.3 172.14,337.3 172.86,337.3 173.57,337.3 174.29,337.3 175,337.3 175,336.5 175.71,336.43 176.43,336.36 177.14,336.29 177.86,336.21 178.57,336.25 179.29,336.15 180,336.13 181,331.98 182,327.51 183,314.09 183.75,307.62 184.5,302.04 185.25,308.91 186,316.06 187,334.09 188,335.23 189,336.2 190,333.93 191,332.51 192,331.09 193,328.12 194,331.55 195,333.48 196,335.41 197,327.81 198,321.83 199,301.39 200,282.03 201,300.03 201.5,317.09 202.25,325.82 203,333.95 204,333.46 205,333.14 206,334.17 207,335.41 208,335.18 209,335.08 210,335.88 211,336.24 212,336.5 213,337 213.71,336.94 214.43,336.89 215.14,336.83 215.86,336.77 216.57,336.71 217.29,336.66 218,336.6 218.75,336.6 219.5,336.6 220.25,336.6 221,336.6 221.75,336.6 222.5,336.6 223.25,336.6 224,336.6 224.75,336.6 225.5,336.6 226.25,336.6 227,336.6 227.75,336.6 228.5,336.6 229.25,336.6 230,336.6 231,336.95 232,337.3 232,337.4"/>
<polygon fill="#868686" points="21.5,394 21.5,394 22,393 22.8,393 23.6,393 24.4,393 25.2,393 26,393 26.75,392.82 27.5,392.7 28.25,392.77 29,392.53 29.83,392.59 30.67,392.55 31.5,392.63 32.2,392.71 32.9,392.84 33.6,392.78 34.3,392.86 35,393 35.95,392.22 36.9,391.17 37.7,390.99 38.5,390.39 39.27,391.18 40.03,391.37 40.8,391.65 41.53,391.88 42.27,392.09 43,392.48 43.8,392.55 44.6,392.89 45.4,393 46.2,392.69 47,392.48 47.73,391.8 48.47,391.15 49.2,390.76 49.97,388.47 50.73,388.24 51.5,386.29 52.25,388.83 53,391.27 53.8,391.58 54.6,391.49 55.4,391.73 56.17,392.42 56.93,392.52 57.7,393 58.47,392.05 59.23,390.96 60,389.23 61.2,387.94 62.1,389.67 63,391.46 63.8,386.4 64.6,382.96 65.4,379.52 66.2,377.07 66.95,376.87 67.7,373.87 68.45,371.98 69.2,368.38 70.5,360.74 71.25,367.3 72,371.61 72.75,377.19 73.5,382.66 74.6,388.77 75.4,385.8 76.2,384.06 77,381.73 77.75,384.62 78.5,387.46 79.27,385.36 80.03,385.35 80.8,383.19 81.53,385.58 82.27,387.2 83,389.56 83.8,390.78 84.6,391.26 85.4,389.65 86.2,387.2 87,385.26 87.73,386.18 88.47,387.61 89.2,388.58 89.97,388.32 90.73,386.63 91.5,387.27 92.28,387.28 93.05,386.34 93.82,385.05 94.6,385.22 95.4,385.08 96.2,385.89 97,387.62 97.75,386.42 98.5,385.88 99.25,385.49 100,385 101,385.78 102,387.09 103,385.81 104,384.53 105,386.4 106,388.47 106.75,384.71 107.5,382.47 108.25,386.36 109,390.67 110,388.87 111,387.76 111.75,387.8 112.5,389.02 113.33,389.47 114.17,389.44 115,389.41 116,388.51 117,387.05 118,387.47 119,387.87 120,389.1 121,390.37 121.75,390.05 122.5,389.93 123.25,389.92 124,390.03 125,386.59 126,385.25 126.75,382.09 127.5,380.26 128.25,383.03 129,383.77 130,373.02 130.75,366.48 131.5,360.03 132.25,368.35 133,376.3 133.75,383.31 134.5,388.9 135.25,387.51 136,386.73 137,380.72 138,376.42 139,365.77 140,355.93 140.75,360.33 141.5,365.01 142.25,374.5 143,381.27 144,386.91 145,389.1 146,389.35 147,387.68 147.75,382.54 148.5,379.08 149.25,375.28 150,373.61 151,375.79 152,378.86 152.75,370.45 153.5,360.32 154.25,352.51 155,344.11 156,353.94 157,366.38 157.75,372.81 158.5,378.51 159.25,375.3 160,369.56 160.9,368.12 161.8,364.58 162.8,372.28 163.8,381.53 164.6,386.5 165.4,389.9 166.15,386.14 166.9,383.68 167.7,388.54 168.5,392.07 169.27,391.22 170.03,389.65 170.8,387.78 171.53,385.85 172.27,383.83 173,380.97 173.8,384.06 174.6,385.42 175.4,388.81 176.17,386.76 176.93,385.91 177.7,384.39 178.45,380.12 179.2,376.25 180,371.73 180.8,366.68 181.53,368.39 182.27,369.98 183,371.44 183.8,365.53 184.6,362.14 185.8,350.05 186.6,356.82 187.4,362.23 188.3,372.08 189.2,382.15 190,384.83 190.8,387.06 191.55,379.08 192.3,371.74 193.05,372.35 193.8,370.83 194.6,377.26 195.4,382.82 196.2,380.42 197,377.18 197.73,373.46 198.47,370.27 199.2,368.28 200.2,362.08 201.2,355.89 202.1,364.5 203,372.75 203.8,376.24 204.6,383.33 205.4,371.04 206.2,358.91 206.95,365.16 207.7,371.4 208.45,375.77 209.2,378.78 210,382.31 210.8,386.49 211.53,386.67 212.27,387.65 213,389.61 213.8,390.7 214.6,391.13 215.4,392.33 216.18,392.31 216.95,391.87 217.72,391.94 218.5,391.87 219.25,390.52 220,388.99 220.75,387.75 221.5,387.32 222.27,388.71 223.03,389.69 223.8,390.86 224.6,391.51 225.4,391.63 226.2,391.46 227,391.82 227.73,392.39 228.47,392.79 229.2,393 229.97,392.67 230.73,392.21 231.5,391.82 232.28,391.96 233.05,392.32 233.82,392.68 234.6,393 234.6,394"/>
<polygon fill="#000" points="21.5,394 21.5,394 22,393.5 22.8,393.5 23.6,393.5 24.4,393.5 25.2,393.5 26,393.5 26.75,393.32 27.5,393.15 28.25,392.98 29,392.8 29.83,392.8 30.67,392.8 31.5,392.8 32.2,392.94 32.9,393.08 33.6,393.22 34.3,393.36 35,393.5 35.95,392.73 36.9,391.7 37.7,391.59 38.5,391.27 39.27,391.64 40.03,391.74 40.8,392.02 41.53,392.65 42.27,392.65 43,392.8 43.8,393.03 44.6,393.27 45.4,393.5 46.2,393.15 47,392.8 47.73,392.24 48.47,391.93 49.2,391.52 49.97,390.46 50.73,390.24 51.5,389.38 52.25,390.68 53,391.51 53.8,391.68 54.6,392.31 55.4,392.38 56.17,392.66 56.93,393 57.7,393.5 58.47,393.33 59.23,393.17 60,393 60.75,392.91 61.5,392.59 62.25,392.55 63,392.19 63.8,387.27 64.6,380.69 65.4,378.55 66.2,376.62 66.95,374.56 67.7,373.58 68.45,373.44 69.2,372.9 70.5,373.18 71.25,374.11 72,376.23 72.75,380.17 73.5,382.51 74.6,389.01 75.4,388.13 76.2,385.75 77,385.84 77.75,386.06 78.5,386.21 79.27,387.32 80.03,385.57 80.8,385.77 81.53,387.18 82.27,388.89 83,389.74 83.8,390.25 84.6,391.12 85.4,388.92 86.2,388.22 87,386.65 87.73,386.04 88.47,386.73 89.2,388.05 89.97,388.59 90.73,389.65 91.5,390 92.28,389.66 93.05,388.41 93.82,389.06 94.6,388.68 95.4,388.11 96.2,388.18 97,386.1 97.75,386.5 98.5,387.75 99.25,388.25 100,388.04 101,387.93 102,388.78 103,387.75 104,385.21 105,386.8 106,387.87 106.75,386.46 107.5,385.95 108.25,387.74 109,390.21 110,388.92 111,388.47 111.75,387.77 112.5,388.95 113.33,388.58 114.17,388.71 115,390.02 116,387.63 117,387.33 118,387.97 119,388.77 120,388.91 121,390.39 121.75,389.84 122.5,390.42 123.25,390.13 124,389.69 125,388.15 126,386.6 126.75,386.63 127.5,385.05 128.25,385.81 129,385.28 130,375.49 130.75,373.12 131.5,372.57 132.25,374.72 133,376.32 133.75,383.67 134.5,387.88 135.25,387.41 136,386.27 137,382.1 138,378.85 139,368.24 140,358.37 140.75,363.08 141.5,366.7 142.25,375.49 143,381.25 144,386.94 145,389.06 146,389.38 147,388.46 147.75,383.71 148.5,380.05 149.25,378.13 150,376.57 151,378.44 152,380.8 152.75,373.18 153.5,364.2 154.25,363.04 155,360.21 156,363.14 157,366.97 157.75,371.38 158.5,379.1 159.25,374.9 160,373.15 160.9,372.44 161.8,375.58 162.8,378.4 163.8,381.81 164.6,385.25 165.4,389.92 166.15,388.25 166.9,386.33 167.7,389.48 168.5,392.4 169.27,390.73 170.03,389.75 170.8,387.89 171.53,387.41 172.27,387.83 173,387.25 173.8,386.89 174.6,387.25 175.4,387.82 176.17,387.19 176.93,385.59 177.7,383.6 178.45,381.2 179.2,379.85 180,377.71 180.8,375.59 181.53,376.15 182.27,376.38 183,377.14 183.8,375.51 184.6,371.7 185.8,367.59 186.6,368.52 187.4,372.58 188.3,376.14 189.2,381.85 190,384.9 190.8,386.87 191.55,379.18 192.3,374.3 193.05,373.35 193.8,374.22 194.6,377.49 195.4,381.91 196.2,381.83 197,379.31 197.73,377.29 198.47,376.18 199.2,375.11 200.2,371.41 201.2,370.14 202.1,373.18 203,376.53 203.8,378.72 204.6,383.07 205.4,380.25 206.2,377.3 206.95,377.66 207.7,380.06 208.45,378.59 209.2,378.65 210,380.93 210.8,386.4 211.53,387.73 212.27,388.24 213,389.56 213.8,390.47 214.6,391.35 215.4,392.01 216.18,392.33 216.95,391.86 217.72,391.72 218.5,391.56 219.25,390.34 220,389.69 220.75,387.42 221.5,386.17 222.27,388.58 223.03,389.41 223.8,390.81 224.6,391.37 225.4,391.51 226.2,391.63 227,391.89 227.73,392.05 228.47,392.79 229.2,393 229.97,392.74 230.73,392.02 231.5,391.57 232.28,392.11 233.05,392.44 233.82,392.71 234.6,393 234.6,394"/>
<line x1="21.5" y1="394.6" x2="235" y2="394.6" stroke="#555" stroke-width="0.8"/>
<rect x="21" y="279.5" width="214" height="132.9" fill="none" stroke="#7a7a7a" stroke-width="1.1"/>
<text transform="translate(30.4,294) scale(1.04,1)" font-size="8.8" font-weight="bold" text-anchor="start" fill="#000" >Gfi1 occupancy</text>
<text transform="translate(30.3,353.4) scale(1.04,1)" font-size="8.8" font-weight="bold" text-anchor="start" fill="#000" >H3K4-dimethylation</text>
<text x="0" y="0" font-size="7.9" text-anchor="middle" fill="#000" transform="translate(14.9,370.6) rotate(-90) scale(0.965,1)">reads/genome</text>
<line x1="22" y1="403.6" x2="175.4" y2="403.6" stroke="#111" stroke-width="0.8"/>
<path d="M24.9 400.8L22.7 403.6L24.9 406.4M30.28 400.8L28.08 403.6L30.28 406.4M35.66 400.8L33.46 403.6L35.66 406.4M41.04 400.8L38.84 403.6L41.04 406.4M46.42 400.8L44.22 403.6L46.42 406.4M51.8 400.8L49.6 403.6L51.8 406.4M57.18 400.8L54.98 403.6L57.18 406.4M62.56 400.8L60.36 403.6L62.56 406.4M67.94 400.8L65.74 403.6L67.94 406.4M73.32 400.8L71.12 403.6L73.32 406.4M78.7 400.8L76.5 403.6L78.7 406.4M84.08 400.8L81.88 403.6L84.08 406.4M89.46 400.8L87.26 403.6L89.46 406.4M94.84 400.8L92.64 403.6L94.84 406.4M100.22 400.8L98.02 403.6L100.22 406.4" fill="none" stroke="#222" stroke-width="0.8"/>
<path d="M108.7 400.8L106.5 403.6L108.7 406.4M114.08 400.8L111.88 403.6L114.08 406.4" fill="none" stroke="#222" stroke-width="0.8"/>
<rect x="102.3" y="398.8" width="1.8" height="10.2" fill="#000" />
<line x1="119.2" y1="399.5" x2="119.2" y2="408" stroke="#000" stroke-width="0.8"/>
<line x1="128.1" y1="399.5" x2="128.1" y2="408" stroke="#000" stroke-width="0.8"/>
<rect x="133.5" y="399" width="1.6" height="9.2" fill="#000" />
<rect x="153.8" y="399" width="1.7" height="9.2" fill="#000" />
<rect x="175.4" y="399.7" width="7.4" height="7.6" fill="#000" />
<rect x="92.4" y="410.2" width="2.4" height="1.2" fill="#000" />
<text x="187" y="406.5" font-size="7.8" font-weight="normal" text-anchor="start" fill="#111" >Meis1</text>
<text transform="translate(2.97,433.8) scale(0.9,1)" font-size="15.9" font-weight="bold" text-anchor="start" fill="#000" >D</text>
<polygon fill="#000" points="21.5,483.7 21.5,483.6 22.24,483.6 22.98,483.6 23.73,483.6 24.47,483.6 25.21,483.6 25.95,483.6 26.69,483.6 27.43,483.6 28.17,483.6 28.92,483.6 29.66,483.6 30.4,483.6 30.4,482.8 31.17,482.8 31.93,482.8 32.7,482.8 33.47,482.8 34.23,482.8 35,482.8 35.77,482.8 36.53,482.8 37.3,482.8 37.3,483.6 38.2,483.6 39.1,483.6 40,483.6 40,482.8 40.83,482.8 41.67,482.8 42.5,482.8 42.5,483.6 43.5,483.6 44.5,483.6 44.5,482.8 45.33,482.8 46.17,482.8 47,482.8 47,483.6 47.75,483.6 48.5,483.6 49.25,483.6 50,483.6 50,482.8 50.7,482.8 51.4,482.8 52.1,482.8 52.8,482.8 53.5,482.8 53.5,483.6 54.24,483.6 54.97,483.6 55.71,483.6 56.44,483.6 57.18,483.6 57.91,483.6 58.65,483.6 59.38,483.6 60.12,483.6 60.85,483.6 61.59,483.6 62.32,483.6 63.06,483.6 63.79,483.6 64.53,483.6 65.26,483.6 66,483.6 66,482.8 66.75,482.76 67.5,482.73 68.25,482.69 69,482.65 69.75,482.61 70.5,482.57 71.25,482.54 72,482.5 72.73,482.51 73.45,482.57 74.18,482.48 74.91,482.59 75.64,482.65 76.36,482.43 77.09,482.54 77.82,482.58 78.55,482.39 79.27,482.57 80,482.59 80.71,482.45 81.43,482.48 82.14,482.63 82.86,482.56 83.57,482.55 84.29,482.73 85,482.5 85.71,482.51 86.43,482.53 87.14,482.54 87.86,482.56 88.57,482.57 89.29,482.59 90,482.6 90.71,482.61 91.43,482.63 92.14,482.64 92.86,482.66 93.57,482.67 94.29,482.69 95,482.7 95.71,482.71 96.43,482.73 97.14,482.74 97.86,482.76 98.57,482.77 99.29,482.79 100,482.8 100.71,482.79 101.43,482.79 102.14,482.78 102.86,482.77 103.57,482.76 104.29,482.76 105,482.75 105.71,482.74 106.43,482.74 107.14,482.73 107.86,482.72 108.57,482.71 109.29,482.71 110,482.7 110.71,482.69 111.43,482.69 112.14,482.68 112.86,482.67 113.57,482.66 114.29,482.66 115,482.65 115.71,482.64 116.43,482.64 117.14,482.63 117.86,482.62 118.57,482.61 119.29,482.61 120,482.6 120.71,482.56 121.43,482.51 122.14,482.68 122.86,482.52 123.57,482.46 124.29,482.44 125,482.43 125.71,482.57 126.43,482.48 127.14,482.48 127.86,482.41 128.57,482.39 129.29,482.06 130,482.19 130.7,482.28 131.4,482.19 132.1,481.81 132.8,481.8 133.5,481.81 134.6,480.66 135.55,479.73 136.5,478.09 137.25,479.63 138,480.77 138.8,481.28 139.6,482.18 140.4,483 141,483.6 141.75,483.6 142.5,483.6 143.25,483.6 144,483.6 144.75,483.6 145.5,483.6 146.25,483.6 147,483.6 147.75,483.6 148.5,483.6 148.5,482.8 149.21,482.8 149.91,482.8 150.62,482.8 151.33,482.8 152.03,482.8 152.74,482.8 153.45,482.8 154.16,482.8 154.86,482.8 155.57,482.8 156.28,482.8 156.98,482.8 157.69,482.8 158.4,482.8 159.1,482.8 159.81,482.8 160.52,482.8 161.22,482.8 161.93,482.8 162.64,482.8 163.34,482.8 164.05,482.8 164.76,482.8 165.47,482.8 166.17,482.8 166.88,482.8 167.59,482.8 168.29,482.8 169,482.8 169.75,482.55 170.5,482.6 171.25,482.33 172,482.19 172.8,482 173.6,482.01 174.4,481.98 175.2,481.91 176,481.42 176.8,481.76 177.6,481.61 178.4,481.85 179.2,481.69 180,481.85 180.8,482.17 181.6,482.2 182.4,482.23 183.2,482.48 184,482.5 185,483.6 185.75,483.6 186.5,483.6 187.25,483.6 188,483.6 188.8,483.15 189.6,482.7 190.3,482.41 191,482.24 191.7,481.57 192.4,481.18 193.25,481.81 194.1,482.05 194.95,482.5 195.8,483 196.53,482.51 197.27,482.09 198,481.31 199.3,478.34 200.5,475 201.6,472.37 202.5,469.23 203.4,466.87 204.2,463.99 205,461.45 206.2,454.79 207.4,450.33 208.2,451.04 209,452.89 209.7,456.8 210.4,460.35 211.3,469.04 212.7,479.85 213.6,483 214.55,482.5 215.5,482.24 216.33,482.39 217.17,482.67 218,483 218.7,483 219.4,483 220.1,483 220.8,483 221.5,483 222.2,483 222.9,483 223.6,483 224.3,483 225,483 225.7,483 226.4,483 227.1,483 227.8,483 228.5,483 229.2,483 229.9,483 230.6,483 231.3,483 232,483 232.75,483.15 233.5,483.3 234.25,483.45 235,483.6 235,483.7"/>
<polygon fill="#868686" points="21.5,521.3 21.5,521.3 22.5,520.65 23.5,520.2 24.2,519.72 24.9,519.35 25.6,518.98 26.3,518.48 27,517.95 27.73,517.32 28.47,516.73 29.2,516.51 29.97,516.78 30.73,517.41 31.5,517.31 32.2,517.68 32.9,518.19 33.6,517.74 34.3,518.07 35,518.09 35.7,518.02 36.4,518.64 37.1,518.21 37.8,518.64 38.5,518.31 39.2,518.07 39.9,518.5 40.6,518.01 41.3,517.53 42,517.64 42.73,517.81 43.47,518.17 44.2,517.79 44.9,517.97 45.6,518.62 46.3,518.54 47,518.21 47.7,518.43 48.53,518.76 49.35,519.26 50.17,519.53 51,519.92 51.8,519.96 52.6,519.91 53.4,520.04 54.2,520.1 55,520.16 55.8,520.14 56.57,520.07 57.33,519.89 58.1,519.82 58.87,519.32 59.63,519.51 60.4,518.9 61.12,519.04 61.84,518.65 62.56,518.31 63.28,518.4 64,517.8 64.83,517.24 65.65,517.2 66.47,516.92 67.3,516.19 68.07,515.53 68.83,515.27 69.6,514.92 70.4,514.99 71.2,513.91 72,513.71 72.77,513.22 73.53,512.05 74.3,511.01 75.4,511.33 76.17,512.6 76.93,512.9 77.7,513.81 78.47,513.72 79.23,514.3 80,514.43 80.7,515.52 81.4,515.95 82.1,515.75 82.8,517.17 83.5,516.93 84.2,517.73 84.9,517.99 85.6,518.35 86.3,518.03 87,518.49 87.77,518.69 88.53,517.87 89.3,517.74 90.15,518.06 91,517.92 91.85,518.19 92.7,517.98 93.4,517.93 94.1,518.46 94.8,518.23 95.5,518.39 96.2,518.67 96.9,518.72 97.6,518.96 98.3,519.34 99,519.47 99.7,519.95 100.53,519.7 101.35,519.49 102.17,519.12 103,519.1 103.8,519.22 104.6,519.4 105.4,519.51 106.2,519.74 107,519.87 107.8,519.78 108.57,519.66 109.33,519.63 110.1,519.7 110.87,519.3 111.63,519.28 112.4,519.33 113.17,518.8 113.93,518.7 114.7,518.95 115.47,518.68 116.23,518.28 117,517.79 117.77,518.26 118.53,517.94 119.3,517.9 120.07,517.91 120.83,517.67 121.6,517.04 122.37,516.57 123.13,516.53 123.9,516.6 124.67,516.41 125.43,515.84 126.2,515.64 127.08,515.7 127.95,515.14 128.82,514.2 129.7,514.81 130.52,513.43 131.35,511.39 132.18,511.36 133,511.33 133.83,509.91 134.67,510.39 135.5,508.51 136.27,509.94 137.03,511.89 137.8,512.09 139.2,514.99 139.98,515.32 140.77,516.76 141.55,517.83 142.33,518.66 143.12,519.88 143.9,520.8 144.75,519.34 145.6,518.22 146.45,516.34 147.3,514.57 148,513.18 148.7,512.34 149.4,512.75 150.1,510.37 150.8,509.42 151.65,510.75 152.5,512.67 153.35,514.28 154.2,514.9 154.9,515.39 155.6,514.44 156.3,514.58 157,515.89 157.7,515.45 158.47,517.62 159.23,519.06 160,520.8 160.77,518.96 161.53,517.19 162.3,515.14 163,515.32 163.7,513.78 164.4,512.27 165.1,511.35 165.8,510.05 166.5,510.02 167.2,512.56 167.9,512.58 168.6,513.96 169.3,513.53 170.15,514.13 171,513.74 171.85,513.67 172.7,515.42 173.4,515.84 174.1,515.68 174.8,517 175.5,517.46 176.2,517.57 176.97,518.18 177.73,518.78 178.5,518.81 179.27,516.63 180.03,512.78 180.8,510.06 181.57,509.48 182.33,507.09 183.1,505.98 183.87,508.93 184.63,509.77 185.4,512.14 186.17,512.81 186.93,514.54 187.7,516.6 188.65,512.53 189.6,510.24 190.4,502.94 191.2,497.74 191.97,494.79 192.73,493.74 193.5,491.45 194.27,495.02 195.03,497.81 195.8,501.47 196.57,505.32 197.33,506.57 198.1,508.64 198.87,504.65 199.63,500.99 200.4,497.02 201.35,492.03 202.3,488.86 203.1,492.7 203.9,496.84 204.67,501.15 205.43,502.9 206.2,506.39 206.97,510.7 207.73,512.2 208.5,515.61 209.27,515.89 210.03,515.57 210.8,514.26 211.57,512.04 212.33,510.12 213.1,506.63 214.05,507.31 215,505.06 215.77,508.63 216.53,509.58 217.3,510.9 218.2,513.56 219.1,515.18 220,517.92 220.7,517.96 221.4,518.83 222.1,519.02 222.8,519.31 223.5,519.69 224.2,519.64 224.9,519.26 225.6,519.39 226.3,518.79 227,518.82 227.7,518.43 228.4,517.8 229.1,517.83 229.8,517.05 230.5,516.94 231.35,517.58 232.2,518.13 233.05,518.97 233.9,519.63 235,520 235,521.3"/>
<polygon fill="#000" points="21.5,521.3 21.5,521.3 22.5,520.65 23.5,520.05 24.2,519.92 24.9,519.35 25.6,519.16 26.3,518.47 27,518.41 27.73,517.8 28.47,517.47 29.2,516.81 29.97,517 30.73,517.64 31.5,517.97 32.2,517.94 32.9,518.42 33.6,518.13 34.3,518.26 35,518.66 35.7,518.65 36.4,518.8 37.1,518.87 37.8,518.48 38.5,518.67 39.2,518.38 39.9,518.68 40.6,518.55 41.3,518.2 42,518.12 42.73,518.36 43.47,518.45 44.2,518.18 44.9,518.7 45.6,518.44 46.3,518.72 47,518.52 47.7,518.57 48.53,519.32 49.35,519.5 50.17,519.76 51,519.81 51.8,519.88 52.6,519.98 53.4,520.06 54.2,520.15 55,520.13 55.8,520.2 56.57,520.14 57.33,519.88 58.1,519.81 58.87,519.78 59.63,519.44 60.4,519.59 61.12,519.22 61.84,519.06 62.56,518.52 63.28,518.39 64,518.33 64.83,517.65 65.65,516.9 66.47,517.34 67.3,516.91 68.07,516.02 68.83,515.39 69.6,516.18 70.4,515.84 71.2,515.07 72,515.34 72.77,515.09 73.53,515.99 74.3,515.1 75.4,515.63 76.17,515.59 76.93,514.86 77.7,515.96 78.47,515.7 79.23,516.31 80,516.56 80.7,516.14 81.4,516.2 82.1,517.42 82.8,517.13 83.5,517.88 84.2,517.91 84.9,518.2 85.6,518.52 86.3,518.63 87,518.78 87.77,518.37 88.53,518.65 89.3,518.31 90.15,518.28 91,518.51 91.85,517.8 92.7,518.22 93.4,517.81 94.1,518.48 94.8,518.7 95.5,518.49 96.2,518.84 96.9,519.3 97.6,519.34 98.3,519.52 99,519.64 99.7,519.82 100.53,519.78 101.35,519.66 102.17,519.44 103,519.34 103.8,519.36 104.6,519.7 105.4,519.77 106.2,519.69 107,519.79 107.8,519.97 108.57,519.86 109.33,519.95 110.1,519.64 110.87,519.53 111.63,519.69 112.4,519.27 113.17,519.29 113.93,518.98 114.7,519.08 115.47,518.75 116.23,518.72 117,518.12 117.77,518.34 118.53,518.15 119.3,517.89 120.07,518 120.83,517.92 121.6,517.11 122.37,517.12 123.13,517.03 123.9,516.72 124.67,516.4 125.43,516.48 126.2,516.23 127.08,516.71 127.95,516.3 128.82,515.77 129.7,515.91 130.52,515.81 131.35,515.37 132.18,514.78 133,514.31 133.83,513.72 134.67,514.97 135.5,514.12 136.27,513.28 137.03,514.79 137.8,515.57 139.2,516.83 139.98,517.07 140.77,518.12 141.55,518.77 142.33,519.35 143.12,520.18 143.9,520.8 144.75,519.23 145.6,518.39 146.45,516.82 147.3,515.44 148,515.44 148.7,514.48 149.4,513.23 150.1,512.67 150.8,511.9 151.65,512.38 152.5,514.46 153.35,515.16 154.2,514.94 154.9,515.68 155.6,517.07 156.3,518.06 157,518.88 157.7,519.28 158.47,520 159.23,520.27 160,520.8 160.77,519.58 161.53,518.2 162.3,516.38 163,515.58 163.7,515.88 164.4,514.53 165.1,514 165.8,513.74 166.5,513.62 167.2,514.67 167.9,513.83 168.6,513.73 169.3,514.82 170.15,515.05 171,515.48 171.85,515.43 172.7,515.85 173.4,516.36 174.1,516.24 174.8,516.74 175.5,516.9 176.2,517.56 176.97,518.16 177.73,518.16 178.5,518.92 179.27,517.12 180.03,516.01 180.8,515.48 181.57,512.9 182.33,511.65 183.1,511.37 183.87,512.33 184.63,514.71 185.4,515 186.17,516.49 186.93,516.83 187.7,517.08 188.65,513.01 189.6,508.72 190.4,511.31 191.2,512.7 191.97,510.96 192.73,509.21 193.5,507.87 194.27,508.77 195.03,509.52 195.8,510.09 196.57,510 197.33,511.82 198.1,513.54 198.87,511.64 199.63,508.87 200.4,506.23 201.35,503.69 202.3,501.91 203.1,501.61 203.9,502.14 204.67,504.7 205.43,507.3 206.2,510.24 206.97,512.52 207.73,513.87 208.5,516.12 209.27,515.08 210.03,515.94 210.8,515.84 211.57,515.07 212.33,515.15 213.1,515.45 214.05,514.73 215,515.04 215.77,515.17 216.53,515.91 217.3,517.19 218.2,516.6 219.1,517.11 220,517.9 220.7,518.11 221.4,518.28 222.1,519.06 222.8,519.32 223.5,519.82 224.2,519.56 224.9,519.41 225.6,519.23 226.3,518.94 227,518.57 227.7,518.17 228.4,518.31 229.1,517.62 229.8,516.77 230.5,517.17 231.35,517.29 232.2,517.97 233.05,519.05 233.9,519.69 235,520 235,521.3"/>
<line x1="21.5" y1="521.5" x2="235" y2="521.5" stroke="#333" stroke-width="0.8"/>
<rect x="21" y="444.5" width="214" height="96.5" fill="none" stroke="#7a7a7a" stroke-width="1.1"/>
<text transform="translate(30.4,459.2) scale(1.04,1)" font-size="8.8" font-weight="bold" text-anchor="start" fill="#000" >Gfi1 occupancy</text>
<text transform="translate(30.1,500.8) scale(1.04,1)" font-size="8.8" font-weight="bold" text-anchor="start" fill="#000" >H3K4-dimethylation</text>
<text x="0" y="0" font-size="7.9" text-anchor="middle" fill="#000" transform="translate(14.9,497.3) rotate(-90) scale(0.965,1)">reads/genome</text>
<line x1="22" y1="528.4" x2="202.7" y2="528.4" stroke="#444" stroke-width="0.7"/>
<path d="M24.9 526.9L23.5 528.4L24.9 529.9M28 526.9L26.6 528.4L28 529.9M31.1 526.9L29.7 528.4L31.1 529.9M34.2 526.9L32.8 528.4L34.2 529.9M37.3 526.9L35.9 528.4L37.3 529.9M40.4 526.9L39 528.4L40.4 529.9M43.5 526.9L42.1 528.4L43.5 529.9M46.6 526.9L45.2 528.4L46.6 529.9M49.7 526.9L48.3 528.4L49.7 529.9M52.8 526.9L51.4 528.4L52.8 529.9M55.9 526.9L54.5 528.4L55.9 529.9M59 526.9L57.6 528.4L59 529.9M62.1 526.9L60.7 528.4L62.1 529.9M65.2 526.9L63.8 528.4L65.2 529.9M68.3 526.9L66.9 528.4L68.3 529.9M71.4 526.9L70 528.4L71.4 529.9M74.5 526.9L73.1 528.4L74.5 529.9M77.6 526.9L76.2 528.4L77.6 529.9M80.7 526.9L79.3 528.4L80.7 529.9M83.8 526.9L82.4 528.4L83.8 529.9M86.9 526.9L85.5 528.4L86.9 529.9M90 526.9L88.6 528.4L90 529.9M93.1 526.9L91.7 528.4L93.1 529.9M96.2 526.9L94.8 528.4L96.2 529.9M99.3 526.9L97.9 528.4L99.3 529.9M102.4 526.9L101 528.4L102.4 529.9M105.5 526.9L104.1 528.4L105.5 529.9M108.6 526.9L107.2 528.4L108.6 529.9M111.7 526.9L110.3 528.4L111.7 529.9M114.8 526.9L113.4 528.4L114.8 529.9M117.9 526.9L116.5 528.4L117.9 529.9M121 526.9L119.6 528.4L121 529.9M124.1 526.9L122.7 528.4L124.1 529.9M127.2 526.9L125.8 528.4L127.2 529.9M130.3 526.9L128.9 528.4L130.3 529.9M133.4 526.9L132 528.4L133.4 529.9" fill="none" stroke="#555" stroke-width="0.6"/>
<polygon points="202.6,525.8 204.2,525.8 206,527.2 206,529.6 204.2,531 202.6,531" fill="#000"/>
<text x="212" y="531" font-size="7.8" font-weight="normal" text-anchor="start" fill="#111" >IL-6Ra</text>
<text transform="translate(283.5,12.7) scale(0.9,1)" font-size="15.9" font-weight="bold" text-anchor="start" fill="#000" >E</text>
<polygon fill="#000" points="309,77.5 309,77.4 310,75.27 310.75,73.99 311.5,72.27 312.7,71.64 314,72.62 315,75.28 316,77 316.72,77 317.44,77 318.16,77 318.88,77 319.6,77 320.5,75.32 321.5,73.08 322.25,74.54 323,75.53 324,76.15 325,76.28 326,76.18 327,77.4 327.8,77.4 328.6,77.4 329.4,77.4 330.2,77.4 331,77.4 331.5,75.39 332.25,75.08 333,74.28 333.8,75.43 334.6,75.82 335,77.4 335.73,77.4 336.47,77.4 337.2,77.4 337.93,77.4 338.67,77.4 339.4,77.4 340.13,77.4 340.87,77.4 341.6,77.4 341.6,76.03 342.45,76.27 343.3,76.13 344.15,76.06 345,76 345,77.4 345.73,77.4 346.45,77.4 347.18,77.4 347.9,77.4 348.62,77.4 349.35,77.4 350.07,77.4 350.8,77.4 351.5,75.53 352.25,75.09 353,75.01 354.3,76.05 355.07,76.26 355.83,76.02 356.6,76.08 357.5,74.29 358.25,72.52 359,71.85 360,70.64 360.75,71.57 361.5,72.86 362.5,75.23 363.5,77.4 364.21,77.4 364.92,77.4 365.63,77.4 366.35,77.4 367.06,77.4 367.77,77.4 368.48,77.4 369.19,77.4 369.9,77.4 370.62,77.4 371.33,77.4 372.04,77.4 372.75,77.4 373.46,77.4 374.17,77.4 374.88,77.4 375.6,77.4 376.31,77.4 377.02,77.4 377.73,77.4 378.44,77.4 379.15,77.4 379.87,77.4 380.58,77.4 381.29,77.4 382,77.4 382,76.29 382.7,76.2 383.4,76.29 384.1,76.19 384.8,76.3 385.5,76 385.5,77.4 386.27,77.4 387.03,77.4 387.8,77.4 387.8,76.29 388.6,76.06 389.4,76.25 390.2,76.11 391,76 391,77.4 391.71,77.4 392.42,77.4 393.12,77.4 393.83,77.4 394.54,77.4 395.25,77.4 395.96,77.4 396.67,77.4 397.38,77.4 398.08,77.4 398.79,77.4 399.5,77.4 400.21,77.4 400.92,77.4 401.62,77.4 402.33,77.4 403.04,77.4 403.75,77.4 404.46,77.4 405.17,77.4 405.88,77.4 406.58,77.4 407.29,77.4 408,77.4 409,75.42 410,74.35 410.75,74.96 411.5,75.07 412.5,77 413,77.4 413.7,77.4 414.4,77.4 415.1,77.4 415.8,77.4 416.5,77.4 417.2,77.4 417.9,77.4 418.6,77.4 419.3,77.4 420,77.4 420.7,77.4 421.4,77.4 422.1,77.4 422.8,77.4 423.5,77.4 424.2,77.4 424.9,77.4 425.6,77.4 426.3,77.4 427,77.4 427.7,77.4 428.4,77.4 429.1,77.4 429.8,77.4 430.5,77.4 431.2,77.4 431.9,77.4 432.6,77.4 433.3,77.4 434,77.4 434.7,77.4 435.4,77.4 436.1,77.4 436.8,77.4 437.5,77.4 438.2,77.4 438.9,77.4 439.6,77.4 439.6,76.31 440.4,76.41 441.2,76.47 442,76.2 442,77.4 443,77.4 444,77.4 445,75.82 445.9,75.09 446.8,75.01 447.7,74.27 448.6,75.17 449.5,75.85 450.25,75.89 451,76.46 451.8,76.39 452.6,76.27 453.4,76.26 454.2,76.33 455,76.44 456,76.5 456.8,76.5 457.6,76.5 458.4,76.5 459.2,76.5 460,76.5 460.8,76.5 461,77.4 461.75,77.4 462.5,77.4 463.25,77.4 464,77.4 465.4,64.98 466.25,58.6 467.1,53.05 468.4,50.14 469.15,55.36 469.9,57.71 470.65,63.82 471.4,68.51 472.2,71.13 473,72.55 473.75,70.77 474.5,70.64 475.25,66.98 476,64.12 477.3,62.28 478.05,63.09 478.8,61.53 479.8,60.15 481.1,66.13 482.4,52.1 483.6,38.12 484.35,32.66 485.1,25.68 485.85,31.3 486.6,38 487.9,54.49 488.6,61.31 489.3,68.9 490.05,72.53 490.8,76.8 491.5,77.4 492.22,77.4 492.94,77.4 493.66,77.4 494.38,77.4 495.09,77.4 495.81,77.4 496.53,77.4 497.25,77.4 497.97,77.4 498.69,77.4 499.41,77.4 500.12,77.4 500.84,77.4 501.56,77.4 502.28,77.4 503,77.4 503,75.71 503.75,75.49 504.5,75.72 505.25,75.6 506,75.3 506,77.4 506,77.5"/>
<polyline points="305.5,82.9 503.5,82.9 503.5,122.7" fill="none" stroke="#aaa" stroke-width="0.8"/>
<line x1="310.5" y1="82.9" x2="310.5" y2="121.5" stroke="#ddd" stroke-width="0.6"/>
<polygon fill="#868686" points="305.5,122.7 305.5,122.7 305.8,121.03 306.51,121.13 307.21,121.1 307.92,121.36 308.62,121.26 309.33,121.07 310.03,121.13 310.74,121.21 311.44,121.25 312.15,121.3 312.86,121.25 313.56,121.24 314.27,121.14 314.97,121.34 315.68,121.27 316.38,121.17 317.09,121.33 317.79,121.52 318.5,121.21 319.5,122.5 320.8,122.3 321.5,119.6 322.25,119.76 323,119.22 323.7,119 324.4,118.98 325.1,118.53 325.8,118.62 326.5,118.37 327.2,118.71 327.9,118.62 328.6,117.36 329.3,117.84 330,117.97 330.83,118.44 331.67,118.69 332.5,118.91 333.2,119.69 333.9,120.31 334.6,121.11 335.55,121.65 336.5,122.3 337.5,119.48 338.33,119.28 339.17,119.08 340,118.53 341,118.22 342,118.79 343,119.52 344,120.12 345,121.67 346,119.29 346.75,119.4 347.5,119.24 348.25,118.9 349,119.09 349.9,119.63 350.8,120.59 351.5,122.2 352.5,122.2 353.5,122.2 354.5,118.94 355.25,117.69 356,116.36 356.85,115.97 357.7,115.78 358.6,115.96 359.5,116.31 360.25,118.42 361,118.92 362.4,121.17 363.17,121.39 363.95,121.49 364.73,121.6 365.5,121.8 366.5,118.66 367.5,117.33 368.5,116.44 369.25,116.08 370,116.4 371,116.46 372,117.38 372.8,117.27 373.6,118.69 374.4,119.04 375.3,118.23 376.2,117.99 377.1,117.77 378,117.69 379,116.89 380,117.56 380.75,116.31 381.5,116.31 382.2,114.39 382.9,114.69 383.6,115.08 384.55,114.53 385.5,115.25 386.25,115.93 387,117.21 388,118.51 389,120 389.73,119.18 390.47,118.87 391.2,118.21 391.9,118.51 392.6,118.69 393.3,118.35 394,117.73 394.75,118.44 395.5,118.8 396.25,118.51 397,118.08 397.75,118.73 398.5,118.7 399.25,118.01 400,117.66 400.7,118.15 401.4,118.91 402.1,119.59 402.8,119.78 404,121.8 404.7,121.8 405.4,121.8 406.1,121.8 406.8,121.8 407.4,118.95 408.1,116.55 408.8,115.09 409.6,115.1 410.4,114.13 411.2,114.41 412,115.72 412.75,116.27 413.5,117.07 414.4,117.97 415.3,118.05 416,118.7 416.7,118.45 417.4,118.66 418.1,118.81 418.8,118.53 419.5,118.78 420.2,118.4 420.9,119.31 421.6,119.02 422.33,118.47 423.07,116.18 423.8,115.95 424.85,117.66 425.9,118.8 426.67,117.7 427.45,116.91 428.23,116.02 429,116.22 429.73,113 430.47,112.49 431.2,109.53 432,108.19 432.8,106.69 433.53,108.72 434.27,111.05 435,113.02 436,114.73 437,117.51 437.87,116.35 438.73,116.57 439.6,116.21 440.4,116.46 441.2,115.94 442,116.91 442.8,117.44 443.6,115.95 444.4,114.91 445.2,114.65 446,114.85 447,111.49 448,109.62 448.73,112.28 449.47,114.28 450.2,115.9 450.9,115.77 451.6,117.33 452.3,116.81 453.15,115.53 454,111.9 454.75,106.51 455.5,101.5 456.25,97.63 457,94.9 458.2,98.12 458.95,98.35 459.7,101.07 460.8,95.6 461.65,94.08 462.5,93.09 463.25,93.27 464,92.63 465.4,98.36 466.7,107.56 467.45,112.71 468.2,114.94 468.95,113.71 469.7,109.7 470.5,107.85 471.3,105.06 472.15,105.01 473,103.21 473.75,101.81 474.5,101.99 475.25,102.94 476,107.01 476.85,108.19 477.7,112.12 478.4,113.52 479.1,116.11 479.8,116.58 480.53,116.48 481.27,115.42 482,115.6 483,98.98 483.75,92.98 484.5,86.79 485.5,83.75 486.8,91.18 487.55,98.95 488.3,105.91 489.15,111.15 490,117.12 490.83,118.15 491.67,119.06 492.5,120.75 493.25,120.84 494,121.48 494.75,121.36 495.5,121.59 496.25,121.61 497,121.45 497.75,121.6 498.5,121.64 499.25,121.5 500,121.53 500.75,121.58 501.5,121.71 502.25,121.53 503,121.68 503.5,122.7 503.5,122.7"/>
<polygon fill="#000" points="305.5,122.7 305.5,122.7 305.8,121.48 306.51,121.45 307.21,121.5 307.92,121.6 308.62,121.41 309.33,121.62 310.03,121.47 310.74,121.6 311.44,121.64 312.15,121.45 312.86,121.66 313.56,121.7 314.27,121.52 314.97,121.45 315.68,121.49 316.38,121.73 317.09,121.48 317.79,121.73 318.5,121.54 319.5,122.5 320.8,122.3 321.5,120.44 322.25,119.86 323,119.72 323.7,119.88 324.4,119.23 325.1,119.22 325.8,119.52 326.5,119.16 327.2,119.2 327.9,119.19 328.6,118.11 329.3,118.19 330,118.65 330.83,118.88 331.67,118.63 332.5,119.41 333.2,119.98 333.9,120.86 334.6,121.53 335.55,121.9 336.5,122.3 337.5,119.51 338.33,119.94 339.17,119.1 340,119.31 341,118.76 342,119.22 343,119.74 344,120.71 345,121.55 346,120.24 346.75,119.82 347.5,120.15 348.25,119.92 349,119.58 349.9,120.21 350.8,120.74 351.5,122.2 352.5,122.2 353.5,122.2 354.5,120.15 355.25,118.59 356,117.27 356.85,117.9 357.7,117.46 358.6,117.79 359.5,117.81 360.25,118.66 361,119.69 362.4,121.52 363.17,121.62 363.95,121.75 364.73,121.88 365.5,122 366.5,119.53 367.5,118.75 368.5,117.51 369.25,117.26 370,116.53 371,116.51 372,117.86 372.8,118.53 373.6,119.15 374.4,119.89 375.3,119.69 376.2,119.64 377.1,119.02 378,118.32 379,118.09 380,118.14 380.75,117.43 381.5,117.43 382.2,116.05 382.9,115.53 383.6,115.06 384.55,115.39 385.5,117.47 386.25,117.01 387,118.63 388,119.83 389,120.34 389.73,120.19 390.47,119.67 391.2,119.2 391.9,119.04 392.6,118.85 393.3,119.38 394,119.22 394.75,119.44 395.5,118.79 396.25,119.46 397,119.26 397.75,119.42 398.5,119.23 399.25,118.91 400,119.4 400.7,118.88 401.4,119.82 402.1,120.2 402.8,120.3 404,122 404.7,122 405.4,122 406.1,122 406.8,122 407.4,119.92 408.1,119.03 408.8,116.82 409.6,116.5 410.4,115.84 411.2,115.87 412,117.05 412.75,117.49 413.5,118.54 414.4,119.11 415.3,119.64 416.1,119.1 416.9,119.12 417.7,118.8 418.5,118.23 419.27,118.87 420.05,118.79 420.83,119.6 421.6,119.47 422.33,118.66 423.07,117.39 423.8,116.25 424.85,117.56 425.9,119.21 426.67,119.12 427.45,117.93 428.23,117.13 429,116.34 429.73,115.28 430.47,112.36 431.2,110.38 432,110.31 432.8,108.01 433.53,110.08 434.27,112.15 435,113.97 436,116.07 437,117.05 437.87,117.02 438.73,117.23 439.6,116.8 440.4,115.94 441.2,116.23 442,116.61 442.8,116.64 443.6,116.3 444.4,116.36 445.2,115.22 446,114.42 447,112.44 448,111.87 448.73,114.53 449.47,115.05 450.2,115.76 450.9,116.41 451.6,117.45 452.3,117.95 453.15,115.01 454,114 454.75,108.56 455.5,104.15 456.25,100.52 457,97.82 458.2,99.75 458.95,100.84 459.7,101.04 460.8,97.94 461.65,97.01 462.5,94.13 463.25,93.39 464,93.58 465.4,99.6 466.7,108.71 467.45,112.03 468.2,116.41 468.95,112.7 469.7,111.4 470.5,109.89 471.3,106.44 472.15,105.93 473,105.74 473.75,104.36 474.5,102.82 475.25,104.35 476,107.47 476.85,109.81 477.7,113.07 478.4,113.94 479.1,115.84 479.8,117.81 480.53,117.2 481.27,115.6 482,114.74 483,99.27 483.75,94.53 484.5,87.42 485.5,85.64 486.8,92.57 487.55,99.32 488.3,107.46 489.15,111.72 490,116.1 490.83,118.28 491.67,119.13 492.5,120.49 493.25,121.05 494,121.74 494.75,121.53 495.5,121.55 496.25,121.58 497,121.6 497.75,121.62 498.5,121.65 499.25,121.67 500,121.7 500.75,121.72 501.5,121.75 502.25,121.77 503,121.8 503.5,122.7 503.5,122.7"/>
<rect x="302.9" y="17.5" width="214.6" height="122.5" fill="none" stroke="#7a7a7a" stroke-width="1.1"/>
<text transform="translate(311,30.6) scale(1.04,1)" font-size="8.8" font-weight="bold" text-anchor="start" fill="#000" >Gfi1 occupancy</text>
<text transform="translate(310.1,90.8) scale(1.04,1)" font-size="8.8" font-weight="bold" text-anchor="start" fill="#000" >H3K4-dimethylation</text>
<text x="0" y="0" font-size="8.2" text-anchor="middle" fill="#000" transform="translate(295.2,101.4) rotate(-90) scale(0.965,1)">reads/genome</text>
<line x1="307.6" y1="132.9" x2="466" y2="132.9" stroke="#777" stroke-width="0.7"/>
<rect x="406.2" y="131.3" width="1" height="3.7" fill="#000" />
<rect x="466" y="131.5" width="2.6" height="3.6" fill="#000" />
<rect x="468.5" y="132.4" width="13.4" height="1.5" fill="#000" />
<text x="493.1" y="137.75" font-size="9.4" font-weight="normal" text-anchor="start" fill="#000" >Pbx1</text>
<text transform="translate(283.5,158) scale(0.9,1)" font-size="15.9" font-weight="bold" text-anchor="start" fill="#000" >F</text>
<polygon fill="#000" points="304.5,210.3 304.5,210.2 305.25,209.85 306,209.5 306.8,209.5 307.6,209.5 308.4,209.5 309.2,209.5 310,209.5 310.75,209.22 311.5,208.51 312.5,208.47 313.5,208.14 314.33,208.26 315.17,208.56 316,208.48 316.77,208.57 317.53,208.8 318.3,208.67 319.2,208.99 320.1,209.17 321,209.5 322,210.2 322.71,210.2 323.43,210.2 324.14,210.2 324.86,210.2 325.57,210.2 326.29,210.2 327,210.2 328,208.26 328.7,208.11 329.4,207.7 330.1,207.43 330.8,206.84 331.5,206.91 332.2,207.71 332.9,207.95 333.6,208.39 334.6,207.56 335.6,206.11 337,201.45 338,187.87 339.2,175.3 340.5,160.82 341.4,165.69 342.3,181.66 343.5,194.74 344.6,199.32 345.4,201.7 346.2,202.62 346.95,201.72 347.7,200.32 349,204.11 350.4,204.58 351.35,205.68 352.3,206.94 353.13,207.05 353.97,207.36 354.8,207.11 355.52,206.55 356.25,206.05 356.98,204.76 357.7,205.37 358.65,203.49 359.6,202.57 360.55,204.01 361.5,205.3 362.27,205.46 363.03,204.48 363.8,203.82 364.8,202.4 365.8,200.31 366.55,202.65 367.3,205.2 368.05,206.72 368.8,208.35 370.2,210 370.9,209.75 371.6,209.5 372.3,209.25 373,209.07 373.75,208.34 374.5,207.53 375.25,207.17 376,206.35 376.8,206.71 377.6,207 378.4,207.34 379.2,207.45 380,207.99 380.9,208.1 381.8,208.86 382.7,209.16 383.7,210.2 384.44,210.2 385.17,210.2 385.91,210.2 386.64,210.2 387.38,210.2 388.11,210.2 388.85,210.2 389.59,210.2 390.32,210.2 391.06,210.2 391.79,210.2 392.53,210.2 393.26,210.2 394,210.2 394,209.01 395,208.86 396,208.71 396.8,208.57 397.6,208.55 398.4,208.35 399.2,208.23 400,208.4 400.74,207.96 401.48,208.02 402.22,207.91 402.96,207.6 403.7,207.33 404.47,208.08 405.23,208.23 406,208.85 406.75,208.77 407.5,209.12 408.25,209.25 409,209.5 410,209.18 411,208.52 411.75,207.42 412.5,205.08 413.7,203.52 415,205.21 416,208.47 416.75,208.39 417.5,208.61 418.25,208.59 419,208.77 419.75,208.66 420.5,208.38 421.25,208.23 422,208.42 422.75,208.19 423.5,208.66 424.25,208.46 425,208.54 425.75,208.42 426.5,208.6 427.25,208.58 428,208.21 428.75,208.44 429.5,208.37 430.25,208.76 431,208.77 432,210.2 432.75,210.2 433.5,210.2 434.25,210.2 435,210.2 435,209.2 435.75,209.2 436.5,209.2 437.25,209.2 438,209.2 438.75,209.2 439.5,209.2 440.25,209.2 441,209.2 441.75,209.2 442.5,209.2 443.25,209.2 444,209.2 444,210.2 445,210.2 446,210.2 447,208.56 447.75,208.4 448.5,208.56 449.25,208.14 450,208.42 450.75,208.27 451.5,208.35 452.25,208.62 453,208.63 453.75,208.61 454.5,208.32 455.25,208.56 456,208.16 456.75,209.04 457.5,209.5 458,210.2 458.75,210.2 459.5,210.2 460.25,210.2 461,210.2 461,209.2 462,209.2 463,209.2 463,210.2 463.75,210.2 464.5,210.2 465.25,210.2 466,210.2 466.75,210.2 467.5,210.2 467.5,209.5 468.21,209.5 468.92,209.5 469.62,209.5 470.33,209.5 471.04,209.5 471.75,209.5 472.46,209.5 473.17,209.5 473.88,209.5 474.58,209.5 475.29,209.5 476,209.5 476.75,209.25 477.5,209.04 478.25,209.02 479,208.89 479.7,208.38 480.4,207.92 481.1,207.83 481.8,207.72 482.5,207.16 483.2,207.57 483.9,207.46 484.6,207.88 485.3,208.2 486,208.22 486.75,208.56 487.5,208.55 488.25,209.03 489,209.03 490,210.2 490.8,210.2 491.6,210.2 492.4,210.2 493.2,210.2 494,210.2 494,208.87 494.71,208.89 495.43,208.87 496.14,208.71 496.86,208.62 497.57,208.64 498.29,208.8 499,208.5 499,210.2 499.75,210.2 500.5,210.2 501.25,210.2 502,210.2 503,208.56 504,207.28 505,206.46 506,206.68 506.75,207.53 507.5,207.87 508.25,208.71 509,209.5 510,209.5 510.7,209.5 511.4,209.5 512.1,209.5 512.8,209.5 513.5,209.5 514.2,209.5 514.9,209.5 515.6,209.5 516.3,209.5 517,209.5 517,210.3"/>
<line x1="304.5" y1="210.5" x2="517.5" y2="210.5" stroke="#666" stroke-width="0.6"/>
<polygon fill="#868686" points="304.5,263.5 304.5,263.5 305.3,263.05 306.1,262.6 306.9,262.18 307.7,261.76 308.43,261.81 309.16,262.05 309.89,262.03 310.62,261.79 311.35,262.07 312.08,261.71 312.81,261.94 313.54,262.08 314.27,261.84 315,262.07 315.75,261.96 316.5,261.72 317.25,261.83 318,261.88 318.75,261.8 319.5,261.99 320.25,261.77 321,262.01 322,260.93 323,259.86 323.75,258.37 324.5,255.67 325.25,254.56 326,252.93 326.83,251.98 327.67,251.15 328.5,249.67 329.8,254.13 330.75,250.86 331.7,249.72 332.7,247.59 333.7,247.57 334.65,248.08 335.6,249.12 336.55,250.21 337.5,249.56 338.45,247.67 339.4,247.47 340.35,242.28 341.3,239.55 342.3,238.17 343.3,235.86 344.25,237.08 345.2,238.91 346.15,243.98 347.1,245.66 348.05,247.44 349,248.48 350,239.86 351,232.93 351.95,227.96 352.9,224.48 353.85,224.86 354.8,225.01 355.75,225.13 356.7,226.09 357.7,224.7 358.7,223.58 359.65,225.28 360.6,228.12 361.55,232.1 362.5,237.76 363.45,239.68 364.4,245.58 365.35,240.22 366.3,236.54 367.3,229.3 368.3,222.82 369.6,216.1 370.4,222.55 371.2,226.54 372.1,230.13 373,232.97 374,233.27 375,233.04 375.95,235.44 376.9,239.66 377.85,242.69 378.8,248.57 379.8,249.76 380.8,252.51 381.75,255.68 382.7,257.93 383.45,259.85 384.2,262.7 385,263.5 385.7,263.5 386.4,263.5 387.1,263.5 387.8,263.5 388.5,263.5 389.2,263.5 389.9,263.5 390.6,263.5 391.3,263.5 392,263.5 393.3,260 393.7,258.29 394.47,258.47 395.23,256.73 396,257.24 396.9,258.06 397.8,258.92 398.7,259.11 399.47,259.25 400.23,258.48 401,258.72 401.9,256.68 402.8,257.42 403.7,255.77 404.47,255.38 405.23,254.35 406,254.28 406.9,255.67 407.8,255.91 408.7,255.28 409.47,256.03 410.23,256.07 411,256.57 411.9,257.39 412.8,258.32 413.7,259.77 414.47,259.6 415.23,259.16 416,258.58 416.9,258.45 417.8,258.67 418.7,258.7 419.47,258.84 420.23,259.06 421,258.96 421.9,259.19 422.8,259.23 423.7,258.95 424.47,257.54 425.23,257.89 426,256.81 426.9,256.91 427.8,258.45 428.7,258.39 429.47,259.53 430.23,260.1 431,261.66 431.9,261.91 432.8,262.1 433.7,262.25 434.46,261.74 435.22,261.19 435.98,260.5 436.74,259.79 437.5,259.61 438.33,259.22 439.17,258.99 440,257.89 440.83,259.95 441.67,260.85 442.5,262.31 443.2,261.89 443.9,262.08 444.6,261.89 445.3,261.52 446,261.66 446.8,261.22 447.6,261.06 448.4,261.07 449.2,260.8 450,260.83 450.74,260.7 451.48,260.1 452.22,259.7 452.96,258.93 453.7,258.95 454.47,259.85 455.23,260.67 456,261.72 456.8,261.86 457.6,261.91 458.4,262.03 459.2,262.43 460,262.5 460.83,261.66 461.67,260.26 462.5,259.37 463.33,260.51 464.17,261.37 465,262 466,262.75 467,263.5 467.7,263.5 468.4,263.5 469.1,263.5 469.8,263.5 470.5,263.5 471.2,263.5 471.9,263.5 472.6,263.5 473.3,263.5 474,263.5 475,262.38 476,261.49 476.9,260.43 477.8,259.68 478.7,259.6 479.47,259.19 480.23,259.38 481,259.23 481.9,259.64 482.8,260.09 483.7,260.73 484.46,261.3 485.22,261.43 485.98,261.53 486.74,261.73 487.5,262.09 488.2,262.1 488.9,261.88 489.6,261.83 490.3,261.77 491,261.31 491.8,261.46 492.6,260.97 493.4,261.29 494.2,260.77 495,260.68 495.74,260.86 496.48,260.09 497.22,259.65 497.96,259.96 498.7,259.39 499.47,258.35 500.23,256.12 501,254.82 501.9,257.45 502.8,258.54 503.7,260.76 504.46,259.91 505.22,260.23 505.98,259.4 506.74,259.52 507.5,258.75 508.33,257.73 509.17,257.76 510,255.85 510.83,258.02 511.67,258.93 512.5,260.73 513.2,260.71 513.9,261.13 514.6,261.43 515.3,261.37 516,261.44 517,261.5 517,263.5"/>
<polygon fill="#000" points="304.5,263.5 304.5,263.5 305.3,263.12 306.1,262.75 306.9,262.38 307.7,262.31 308.4,262.29 309.1,262.22 309.8,262.03 310.5,262.21 311.2,262.15 311.9,262.32 312.6,262.12 313.3,262.22 314,262.21 314.7,262.12 315.4,262.17 316.1,262.22 316.8,262.3 317.5,262.16 318.2,262.12 318.9,262.32 319.6,262.02 320.3,262.28 321,262.23 322,261.75 323,261.25 323.75,261.16 324.5,261.01 325.25,260.65 326,260.41 326.83,259.23 327.67,258.95 328.5,258.17 329.8,258.28 330.75,256.63 331.7,253.32 332.7,253.39 333.7,252.47 334.65,252.2 335.6,253.86 336.55,253.74 337.5,252.61 338.45,250.82 339.4,250.88 340.35,247.94 341.3,246.6 342.3,245.38 343.3,245.65 344.25,245.88 345.2,247.17 346.15,250.69 347.1,253.84 348.05,254.22 349,252.76 350,249.82 351,246.01 351.95,244.31 352.9,243.77 353.85,243.37 354.8,242.35 355.75,242.31 356.7,242.81 357.7,244.14 358.7,245.43 359.65,243.36 360.6,244.12 361.55,244.33 362.5,246.09 363.45,247.92 364.4,250.85 365.35,249.09 366.3,248.43 367.3,247.47 368.3,244.81 369.6,244.18 370.4,246.53 371.2,245.83 372.1,247.56 373,249.26 374,249.99 375,251.77 375.95,252.97 376.9,253.85 377.85,253.72 378.8,250.79 379.8,251.15 380.8,253.2 381.75,254.99 382.7,258.12 383.45,260.32 384.2,262.7 385,263.5 385.7,263.5 386.4,263.5 387.1,263.5 387.8,263.5 388.5,263.5 389.2,263.5 389.9,263.5 390.6,263.5 391.3,263.5 392,263.5 393.3,260.6 394.2,259.31 395.1,258.18 396,258.08 396.9,258.42 397.8,259.26 398.7,260.09 399.47,259.88 400.23,259.12 401,258.9 401.9,258.84 402.8,257.61 403.7,256.48 404.47,256.75 405.23,255.8 406,256.44 406.9,255.41 407.8,257.09 408.7,256.93 409.47,256.89 410.23,258.08 411,257.38 411.9,258.14 412.8,258.74 413.7,259.98 414.47,260.02 415.23,259.81 416,259.41 416.9,259.66 417.8,258.78 418.7,258.84 419.47,259.5 420.23,260.09 421,260.06 421.9,259.97 422.8,259.91 423.7,259.39 424.47,259.53 425.23,258.9 426,257.95 426.9,258.32 427.8,259.11 428.7,258.88 429.47,259.66 430.23,261.08 431,261.73 431.9,261.94 432.8,262.19 433.7,262.46 434.46,261.71 435.22,261.3 435.98,260.62 436.74,260.35 437.5,259.94 438.33,259.98 439.17,259.52 440,259.14 440.83,260.07 441.67,261.29 442.5,262.28 443.2,262.33 443.9,262.19 444.6,262.1 445.3,261.7 446,261.8 446.8,261.75 447.6,261.54 448.4,261.65 449.2,261.57 450,261.41 450.74,261.12 451.48,260.67 452.22,260.52 452.96,259.52 453.7,259.7 454.47,260.4 455.23,261.05 456,261.62 456.8,261.77 457.6,262.18 458.4,262.45 459.2,262.46 460,262.7 460.83,261.75 461.67,260.7 462.5,259.7 463.33,260.46 464.17,261.63 465,262.48 466,262.85 467,263.5 467.7,263.5 468.4,263.5 469.1,263.5 469.8,263.5 470.5,263.5 471.2,263.5 471.9,263.5 472.6,263.5 473.3,263.5 474,263.5 475,262.5 476,261.85 476.9,261.04 477.8,260.68 478.7,259.56 479.47,260.24 480.23,259.79 481,259.5 481.9,260.48 482.8,260.59 483.7,261.15 484.46,261.27 485.22,261.68 485.98,261.94 486.74,262.23 487.5,262.21 488.2,262.32 488.9,261.96 489.6,261.86 490.3,261.9 491,261.65 491.8,261.55 492.6,261.58 493.4,261.31 494.2,261.52 495,261.11 495.74,261.22 496.48,260.95 497.22,260.5 497.96,259.82 498.7,260.18 499.47,259.19 500.23,259.35 501,258.97 501.9,259.23 502.8,260.34 503.7,260.98 504.46,260.71 505.22,260.4 505.98,260.31 506.74,260.19 507.5,259.7 508.33,260.13 509.17,260.12 510,259.8 510.83,260.48 511.67,260.56 512.5,261.54 513.2,261.14 513.9,261.44 514.6,261.36 515.3,261.61 516,261.8 517,261.8 517,263.5"/>
<line x1="304.5" y1="263.8" x2="517.5" y2="263.8" stroke="#333" stroke-width="0.8"/>
<rect x="304.3" y="160.5" width="213.2" height="118.5" fill="none" stroke="#7a7a7a" stroke-width="1.1"/>
<text transform="translate(361,173.1) scale(1.04,1)" font-size="8.8" font-weight="bold" text-anchor="start" fill="#000" >Gfi1 occupancy</text>
<text transform="translate(314.5,224.4) scale(1.04,1)" font-size="8.8" font-weight="bold" text-anchor="start" fill="#000" >H3K4-</text>
<text transform="translate(388.4,224.4) scale(1.04,1)" font-size="8.8" font-weight="bold" text-anchor="start" fill="#000" >dimethylation</text>
<text x="0" y="0" font-size="7.9" text-anchor="middle" fill="#000" transform="translate(299.7,240.2) rotate(-90) scale(0.965,1)">reads/genome</text>
<line x1="343" y1="271.2" x2="517.5" y2="271.2" stroke="#333" stroke-width="0.7"/>
<path d="M346.5 268.4L348.5 271.2L346.5 274M349.9 268.4L351.9 271.2L349.9 274M353.3 268.4L355.3 271.2L353.3 274M356.7 268.4L358.7 271.2L356.7 274" fill="none" stroke="#888" stroke-width="0.6"/>
<rect x="342.9" y="267.4" width="2" height="8.7" fill="#000" />
<rect x="381.9" y="265.4" width="1.2" height="10.7" fill="#000" />
<text x="326" y="274.8" font-size="7.6" font-weight="normal" text-anchor="start" fill="#111" >5fpi1</text>
<text transform="translate(283.9,291.25) scale(0.9,1)" font-size="15.9" font-weight="bold" text-anchor="start" fill="#000" >G</text>
<line x1="304.5" y1="295.7" x2="304.5" y2="470.5" stroke="#555" stroke-width="0.95"/>
<line x1="339.7" y1="295.7" x2="339.7" y2="470.5" stroke="#555" stroke-width="0.95"/>
<line x1="385.8" y1="295.7" x2="385.8" y2="470.5" stroke="#555" stroke-width="0.95"/>
<line x1="436.8" y1="295.7" x2="436.8" y2="470.5" stroke="#555" stroke-width="0.95"/>
<line x1="497" y1="295.7" x2="497" y2="470.5" stroke="#555" stroke-width="0.95"/>
<line x1="304.5" y1="295.7" x2="497" y2="295.7" stroke="#555" stroke-width="0.95"/>
<line x1="304.5" y1="327" x2="497" y2="327" stroke="#555" stroke-width="0.95"/>
<line x1="304.5" y1="346.3" x2="497" y2="346.3" stroke="#555" stroke-width="0.95"/>
<line x1="304.5" y1="364.4" x2="497" y2="364.4" stroke="#555" stroke-width="0.95"/>
<line x1="304.5" y1="383.7" x2="497" y2="383.7" stroke="#555" stroke-width="0.95"/>
<line x1="304.5" y1="401.2" x2="497" y2="401.2" stroke="#555" stroke-width="0.95"/>
<line x1="304.5" y1="418.3" x2="497" y2="418.3" stroke="#555" stroke-width="0.95"/>
<line x1="304.5" y1="436.2" x2="497" y2="436.2" stroke="#555" stroke-width="0.95"/>
<line x1="304.5" y1="453.3" x2="497" y2="453.3" stroke="#555" stroke-width="0.95"/>
<line x1="304.5" y1="470.5" x2="497" y2="470.5" stroke="#555" stroke-width="0.95"/>
<text transform="translate(322.1,314.8) scale(0.93,1)" font-size="8.2" font-weight="bold" text-anchor="middle" fill="#000" >Gene</text>
<text transform="translate(362.75,305.7) scale(0.93,1)" font-size="8.2" font-weight="bold" text-anchor="middle" fill="#000" >Known Gfi1</text>
<text transform="translate(362.75,314.6) scale(0.93,1)" font-size="8.2" font-weight="bold" text-anchor="middle" fill="#000" >target</text>
<text transform="translate(362.75,324.3) scale(0.93,1)" font-size="8.2" font-weight="bold" text-anchor="middle" fill="#000" >gene</text>
<text transform="translate(411.3,305.7) scale(0.93,1)" font-size="8.2" font-weight="bold" text-anchor="middle" fill="#000" >Fold change</text>
<text transform="translate(411.3,314.6) scale(0.93,1)" font-size="8.2" font-weight="bold" text-anchor="middle" fill="#000" >H3K4di-</text>
<text transform="translate(411.3,324.3) scale(0.93,1)" font-size="8.2" font-weight="bold" text-anchor="middle" fill="#000" >methylation</text>
<text transform="translate(466.9,310.2) scale(0.93,1)" font-size="8.2" font-weight="bold" text-anchor="middle" fill="#000" >Fold change</text>
<text transform="translate(466.9,319) scale(0.93,1)" font-size="8.2" font-weight="bold" text-anchor="middle" fill="#000" >expression</text>
<text transform="translate(322.1,340.25) scale(0.92,1)" font-size="8.5" font-weight="normal" text-anchor="middle" fill="#111" >Hoxa9</text>
<text transform="translate(362.75,340.25) scale(0.92,1)" font-size="8.5" font-weight="normal" text-anchor="middle" fill="#111" >yes</text>
<text transform="translate(411.3,340.25) scale(0.92,1)" font-size="8.5" font-weight="normal" text-anchor="middle" fill="#111" >2.5</text>
<text transform="translate(466.9,340.25) scale(0.92,1)" font-size="8.5" font-weight="normal" text-anchor="middle" fill="#111" >2</text>
<text transform="translate(322.1,358.95) scale(0.92,1)" font-size="8.5" font-weight="normal" text-anchor="middle" fill="#111" >Id2</text>
<text transform="translate(362.75,358.95) scale(0.92,1)" font-size="8.5" font-weight="normal" text-anchor="middle" fill="#111" >yes</text>
<text transform="translate(411.3,358.95) scale(0.92,1)" font-size="8.5" font-weight="normal" text-anchor="middle" fill="#111" >1.9</text>
<text transform="translate(466.9,358.95) scale(0.92,1)" font-size="8.5" font-weight="normal" text-anchor="middle" fill="#111" >1.7</text>
<text transform="translate(322.1,377.65) scale(0.92,1)" font-size="8.5" font-weight="normal" text-anchor="middle" fill="#111" >IL-6R&#945;</text>
<text transform="translate(362.75,377.65) scale(0.92,1)" font-size="8.5" font-weight="normal" text-anchor="middle" fill="#111" >yes</text>
<text transform="translate(411.3,377.65) scale(0.92,1)" font-size="8.5" font-weight="normal" text-anchor="middle" fill="#111" >1.7</text>
<text transform="translate(466.9,377.65) scale(0.92,1)" font-size="8.5" font-weight="normal" text-anchor="middle" fill="#111" >1.4</text>
<text transform="translate(322.1,396.05) scale(0.92,1)" font-size="8.5" font-weight="normal" text-anchor="middle" fill="#111" >PU.1</text>
<text transform="translate(362.75,396.05) scale(0.92,1)" font-size="8.5" font-weight="normal" text-anchor="middle" fill="#111" >yes</text>
<text transform="translate(411.3,396.05) scale(0.92,1)" font-size="8.5" font-weight="normal" text-anchor="middle" fill="#111" >1.4</text>
<text transform="translate(466.9,396.05) scale(0.92,1)" font-size="8.5" font-weight="normal" text-anchor="middle" fill="#111" >1</text>
<text transform="translate(322.1,413.35) scale(0.92,1)" font-size="8.5" font-weight="normal" text-anchor="middle" fill="#111" >Meis1</text>
<text transform="translate(362.75,413.35) scale(0.92,1)" font-size="8.5" font-weight="normal" text-anchor="middle" fill="#111" >yes</text>
<text transform="translate(411.3,413.35) scale(0.92,1)" font-size="8.5" font-weight="normal" text-anchor="middle" fill="#111" >1.3</text>
<text transform="translate(466.9,413.35) scale(0.92,1)" font-size="8.5" font-weight="normal" text-anchor="middle" fill="#111" >1</text>
<text transform="translate(322.1,430.85) scale(0.92,1)" font-size="8.5" font-weight="normal" text-anchor="middle" fill="#111" >Pbx1</text>
<text transform="translate(362.75,430.85) scale(0.92,1)" font-size="8.5" font-weight="normal" text-anchor="middle" fill="#111" >yes</text>
<text transform="translate(411.3,430.85) scale(0.92,1)" font-size="8.5" font-weight="normal" text-anchor="middle" fill="#111" >1</text>
<text transform="translate(466.9,430.85) scale(0.92,1)" font-size="8.5" font-weight="normal" text-anchor="middle" fill="#111" >1</text>
<text transform="translate(322.1,448.35) scale(0.92,1)" font-size="8.5" font-weight="normal" text-anchor="middle" fill="#111" >Hprt</text>
<text transform="translate(362.75,448.35) scale(0.92,1)" font-size="8.5" font-weight="normal" text-anchor="middle" fill="#111" >no</text>
<text transform="translate(411.3,448.35) scale(0.92,1)" font-size="8.5" font-weight="normal" text-anchor="middle" fill="#111" >1</text>
<text transform="translate(466.9,448.35) scale(0.92,1)" font-size="8.5" font-weight="normal" text-anchor="middle" fill="#111" >1</text>
<text transform="translate(322.1,465.5) scale(0.92,1)" font-size="8.5" font-weight="normal" text-anchor="middle" fill="#111" >&#946;-actin</text>
<text transform="translate(362.75,465.5) scale(0.92,1)" font-size="8.5" font-weight="normal" text-anchor="middle" fill="#111" >no</text>
<text transform="translate(411.3,465.5) scale(0.92,1)" font-size="8.5" font-weight="normal" text-anchor="middle" fill="#111" >1</text>
<text transform="translate(466.9,465.5) scale(0.92,1)" font-size="8.5" font-weight="normal" text-anchor="middle" fill="#111" >1</text>
<text x="479.4" y="338.6" font-size="7" font-weight="normal" text-anchor="middle" fill="#111" >*</text>
</svg></body></html>
